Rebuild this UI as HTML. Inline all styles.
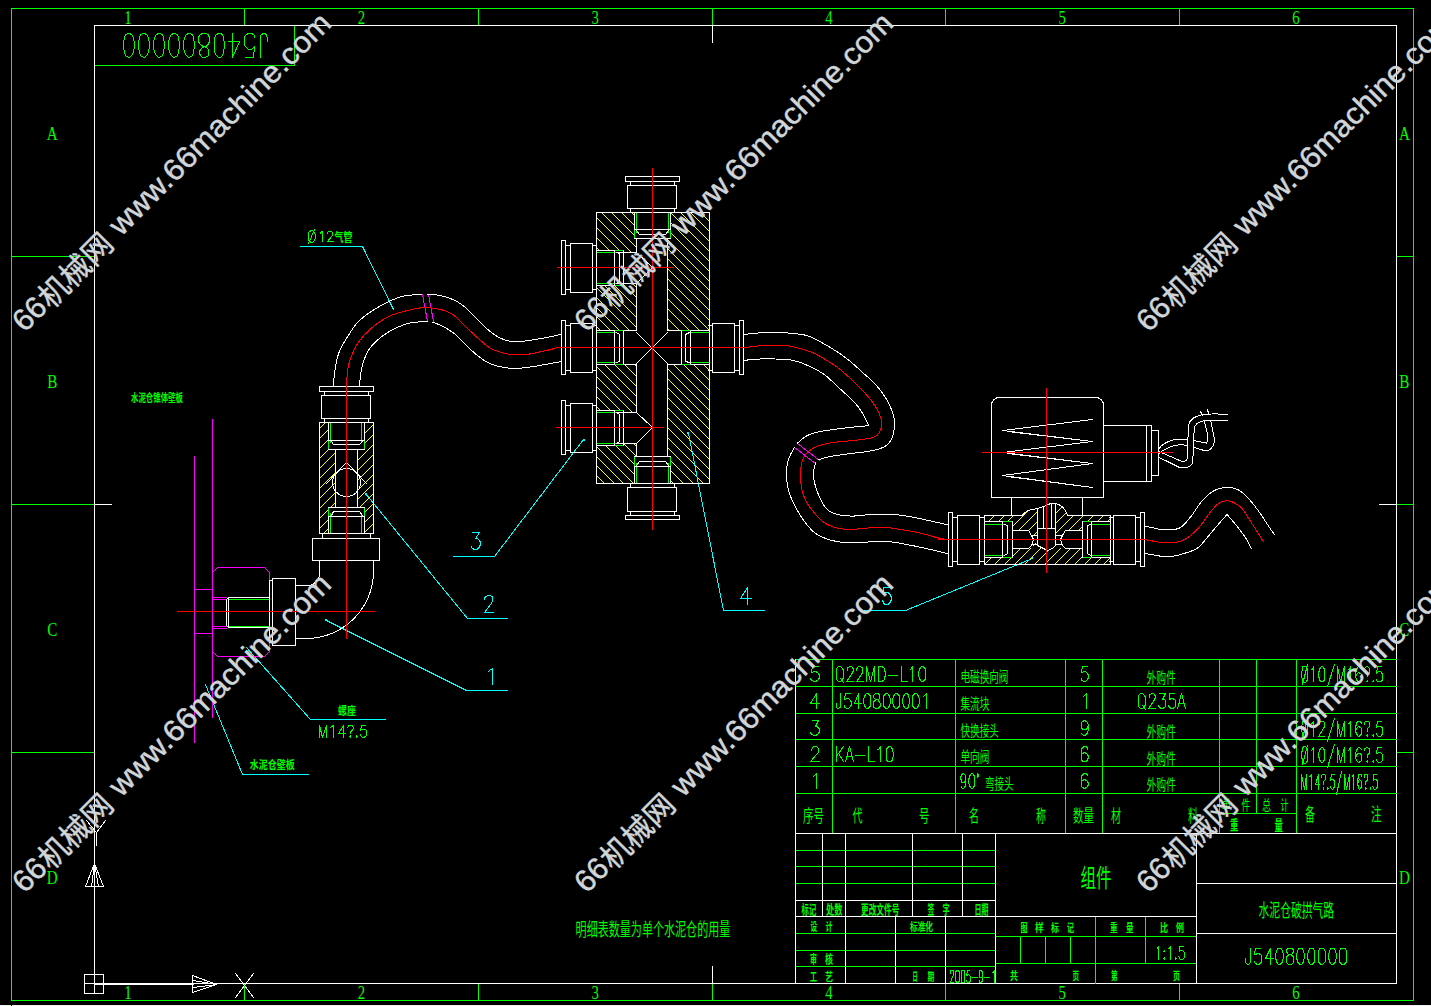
<!DOCTYPE html>
<html><head><meta charset="utf-8"><title>J540800000</title>
<style>html,body{margin:0;padding:0;background:#000;overflow:hidden}svg{display:block}
.ln{fill:none;stroke-width:1;stroke-linecap:square;shape-rendering:crispEdges}
.zone text{font-family:"Liberation Serif",serif;font-size:18px;fill:#0f0;text-anchor:middle}
.wm{font-family:"Liberation Sans","Noto Sans CJK SC",sans-serif}
.cj{font-family:"Liberation Sans","Noto Sans CJK SC",sans-serif;fill:#0f0}
.cb{font-family:"Liberation Sans","Noto Sans CJK SC",sans-serif;fill:#0f0;font-weight:bold}
</style></head><body>
<svg width="1431" height="1006" viewBox="0 0 1431 1006">
<rect width="1431" height="1006" fill="#000"/>
<path class="ln" stroke="#0f0" d="M11.5 8.5H1413.5V1000.5H11.5ZM244.5 8.5L244.5 25.5M244.5 983.5L244.5 1000.5M478.5 8.5L478.5 25.5M478.5 983.5L478.5 1000.5M712.5 8.5L712.5 25.5M712.5 983.5L712.5 1000.5M945.5 8.5L945.5 25.5M945.5 983.5L945.5 1000.5M1179.5 8.5L1179.5 25.5M1179.5 983.5L1179.5 1000.5M11.5 256.5L94.5 256.5M1396.5 256.5L1413.5 256.5M11.5 504.5L94.5 504.5M1396.5 504.5L1413.5 504.5M11.5 752.5L94.5 752.5M1396.5 752.5L1413.5 752.5M94.5 65.5L294.5 65.5M294.5 25.5L294.5 65.5"/>
<path class="ln" stroke="#f0f0f0" d="M0.5 1005.5L10.5 1005.5M12.5 1005.5L1431.5 1005.5"/>
<path class="ln" stroke="#fff" d="M94.5 25.5H1396.5V983.5H94.5ZM712.5 25.5L712.5 42.5M712.5 966.5L712.5 983.5M94.5 504.5L111.5 504.5M1379.5 504.5L1396.5 504.5M84.5 974.5H103.5V993.5H84.5ZM94.5 983.5L94.5 993.5M84.5 983.5L94.5 983.5M94.5 984.5L193.5 984.5M192.5 975.5L192.5 992.5M193.5 980.5L216.5 984.5M193.5 987.5L216.5 984.5M85.5 886.5L103.5 886.5M91.5 886.5L94.5 863.5M98.5 886.5L94.5 863.5M96.5 832.5L96.5 845.5"/>
<path class="ln" stroke="#fff" stroke-width="0.95" d="M192.5 992.5L216.5 984.5M216.5 984.5L192.5 975.5M103.5 886.5L94.5 863.5M94.5 863.5L85.5 886.5"/>
<path class="ln" stroke="#fff" stroke-width="0.8" d="M235.5 973.5L253.5 997.5M253.5 973.5L235.5 997.5M105.5 820.5L96.5 832.5"/>
<path class="ln" stroke="#fff" stroke-width="0.75" d="M86.5 820.5L96.5 832.5"/>
<path class="ln" stroke="#0f0" d="M795.5 659.5L1396.5 659.5M795.5 686.5L1396.5 686.5M795.5 713.5L1396.5 713.5M795.5 739.5L1396.5 739.5M795.5 766.5L1396.5 766.5M795.5 793.5L1396.5 793.5M832.5 659.5L832.5 833.5M955.5 659.5L955.5 833.5M1065.5 659.5L1065.5 833.5M1102.5 659.5L1102.5 833.5M1219.5 659.5L1219.5 833.5M1296.5 659.5L1296.5 833.5M1256.5 659.5L1256.5 813.5M1219.5 813.5L1296.5 813.5M795.5 850.5L995.5 850.5M795.5 866.5L995.5 866.5M795.5 883.5L995.5 883.5M795.5 933.5L995.5 933.5M795.5 950.5L995.5 950.5M795.5 966.5L995.5 966.5M995.5 936.5L1196.5 936.5M995.5 963.5L1196.5 963.5M1095.5 916.5L1095.5 983.5M1145.5 916.5L1145.5 963.5M1020.5 936.5L1020.5 963.5M1045.5 936.5L1045.5 963.5M1070.5 936.5L1070.5 963.5"/>
<path class="ln" stroke="#fff" d="M795.5 659.5L795.5 983.5M795.5 833.5L1396.5 833.5M822.5 833.5L822.5 916.5M845.5 833.5L845.5 916.5M912.5 833.5L912.5 916.5M962.5 833.5L962.5 916.5M995.5 833.5L995.5 983.5M795.5 900.5L995.5 900.5M795.5 916.5L1196.5 916.5M845.5 916.5L845.5 983.5M895.5 916.5L895.5 983.5M945.5 916.5L945.5 983.5M1196.5 833.5L1196.5 983.5M1196.5 883.5L1396.5 883.5M1196.5 933.5L1396.5 933.5"/>
<path class="ln" stroke="#ff0" stroke-width="0.7" d="M319.5 428.5L325.5 422.5M319.5 438.5L328.5 429.5M319.5 448.5L328.5 439.5M319.5 458.5L328.5 449.5M319.5 468.5L335.5 452.5M364.5 423.5L365.5 422.5M319.5 478.5L335.5 462.5M364.5 433.5L373.5 424.5M319.5 488.5L335.5 472.5M357.5 450.5L358.5 449.5M364.5 443.5L373.5 434.5M319.5 498.5L335.5 482.5M357.5 460.5L373.5 444.5M319.5 508.5L335.5 492.5M357.5 470.5L373.5 454.5M319.5 518.5L328.5 509.5M331.5 506.5L335.5 502.5M357.5 480.5L373.5 464.5M319.5 528.5L328.5 519.5M357.5 490.5L373.5 474.5M323.5 533.5L328.5 528.5M357.5 499.5L373.5 483.5M360.5 506.5L373.5 493.5M364.5 512.5L373.5 503.5M364.5 522.5L373.5 513.5M364.5 532.5L373.5 523.5M596.5 475.5L604.5 483.5M596.5 465.5L614.5 483.5M596.5 456.5L623.5 483.5M596.5 446.5L633.5 483.5M605.5 445.5L634.5 474.5M615.5 445.5L634.5 464.5M623.5 443.5L636.5 456.5M596.5 406.5L600.5 410.5M633.5 443.5L636.5 446.5M670.5 480.5L673.5 483.5M596.5 396.5L610.5 410.5M670.5 470.5L683.5 483.5M596.5 386.5L620.5 410.5M670.5 460.5L693.5 483.5M596.5 376.5L632.5 412.5M667.5 447.5L703.5 483.5M596.5 366.5L636.5 406.5M667.5 437.5L709.5 479.5M604.5 364.5L636.5 396.5M667.5 427.5L709.5 469.5M614.5 364.5L636.5 386.5M667.5 417.5L709.5 459.5M624.5 364.5L636.5 376.5M667.5 407.5L709.5 449.5M596.5 326.5L600.5 330.5M634.5 364.5L636.5 366.5M667.5 397.5L709.5 439.5M596.5 316.5L610.5 330.5M667.5 387.5L709.5 429.5M596.5 307.5L619.5 330.5M667.5 378.5L709.5 420.5M596.5 297.5L629.5 330.5M667.5 368.5L709.5 410.5M596.5 287.5L636.5 327.5M673.5 364.5L709.5 400.5M604.5 285.5L636.5 317.5M683.5 364.5L709.5 390.5M614.5 285.5L636.5 307.5M693.5 364.5L709.5 380.5M623.5 284.5L636.5 297.5M667.5 328.5L669.5 330.5M703.5 364.5L709.5 370.5M596.5 247.5L599.5 250.5M632.5 283.5L636.5 287.5M667.5 318.5L679.5 330.5M596.5 237.5L609.5 250.5M667.5 308.5L689.5 330.5M596.5 227.5L619.5 250.5M667.5 298.5L699.5 330.5M596.5 217.5L631.5 252.5M667.5 288.5L709.5 330.5M601.5 212.5L636.5 247.5M667.5 278.5L709.5 320.5M611.5 212.5L634.5 235.5M667.5 268.5L709.5 310.5M621.5 212.5L634.5 225.5M667.5 258.5L709.5 300.5M631.5 212.5L634.5 215.5M667.5 248.5L709.5 290.5M667.5 239.5L709.5 281.5M670.5 232.5L709.5 271.5M670.5 222.5L709.5 261.5M670.5 212.5L709.5 251.5M680.5 212.5L709.5 241.5M690.5 212.5L709.5 231.5M700.5 212.5L709.5 221.5M988.5 521.5L994.5 515.5M998.5 521.5L1004.5 515.5M1007.5 521.5L1013.5 515.5M1012.5 526.5L1028.5 510.5M984.5 564.5L991.5 557.5M1018.5 530.5L1037.5 511.5M994.5 564.5L1001.5 557.5M1028.5 530.5L1037.5 521.5M1004.5 564.5L1011.5 557.5M1012.5 556.5L1020.5 548.5M1033.5 535.5L1037.5 531.5M1055.5 513.5L1062.5 506.5M1014.5 564.5L1030.5 548.5M1033.5 545.5L1035.5 543.5M1055.5 523.5L1066.5 512.5M1024.5 564.5L1041.5 547.5M1055.5 533.5L1073.5 515.5M1034.5 564.5L1049.5 549.5M1068.5 530.5L1083.5 515.5M1044.5 564.5L1060.5 548.5M1078.5 530.5L1082.5 526.5M1087.5 521.5L1093.5 515.5M1054.5 564.5L1070.5 548.5M1097.5 521.5L1103.5 515.5M1064.5 564.5L1080.5 548.5M1107.5 521.5L1110.5 518.5M1074.5 564.5L1082.5 556.5M1084.5 564.5L1091.5 557.5M1094.5 564.5L1101.5 557.5M1103.5 564.5L1110.5 557.5"/>
<path class="ln" stroke="#0f0" d="M328.5 440.5L328.5 449.5M330.5 422.5L330.5 442.5M364.5 440.5L364.5 449.5M361.5 422.5L361.5 442.5M328.5 516.5L328.5 507.5M330.5 533.5L330.5 513.5M364.5 516.5L364.5 507.5M361.5 533.5L361.5 513.5M229.5 599.5L269.5 599.5M229.5 626.5L269.5 626.5M634.5 229.5L634.5 238.5M636.5 212.5L636.5 232.5M670.5 229.5L670.5 238.5M668.5 212.5L668.5 232.5M634.5 466.5L634.5 456.5M636.5 483.5L636.5 463.5M670.5 466.5L670.5 456.5M668.5 483.5L668.5 463.5M614.5 250.5L623.5 250.5M596.5 252.5L615.5 252.5M614.5 285.5L623.5 285.5M596.5 283.5L615.5 283.5M614.5 410.5L623.5 410.5M596.5 412.5L615.5 412.5M614.5 445.5L623.5 445.5M596.5 443.5L615.5 443.5M614.5 330.5L623.5 330.5M596.5 332.5L615.5 332.5M614.5 364.5L623.5 364.5M596.5 362.5L615.5 362.5M690.5 330.5L681.5 330.5M709.5 332.5L689.5 332.5M690.5 364.5L681.5 364.5M709.5 362.5L689.5 362.5M1002.5 521.5L1012.5 521.5M984.5 524.5L1003.5 524.5M1002.5 557.5L1012.5 557.5M984.5 555.5L1003.5 555.5M1091.5 521.5L1082.5 521.5M1110.5 524.5L1090.5 524.5M1091.5 557.5L1082.5 557.5M1110.5 555.5L1090.5 555.5"/>
<path class="ln" stroke="#0ff" d="M466.5 690.5L507.5 690.5M467.5 618.5L507.5 618.5M453.5 556.5L494.5 556.5M688.5 433.5L723.5 610.5M723.5 610.5L764.5 610.5M864.5 610.5L905.5 610.5M300.5 246.5L362.5 246.5M310.5 719.5L385.5 719.5M242.5 774.5L308.5 774.5"/>
<path class="ln" stroke="#0ff" stroke-width="0.95" d="M1032.5 558.5L905.5 610.5"/>
<path class="ln" stroke="#0ff" stroke-width="0.9" d="M326.5 620.5L466.5 690.5M362.5 246.5L393.5 309.5M205.5 684.5L242.5 774.5"/>
<path class="ln" stroke="#0ff" stroke-width="0.8" d="M583.5 439.5L494.5 556.5"/>
<path class="ln" stroke="#0ff" stroke-width="0.75" d="M365.5 493.5L467.5 618.5M246.5 647.5L310.5 719.5"/>
<path class="ln" stroke="#f0f" d="M212.5 419.5L212.5 717.5M194.5 456.5L194.5 742.5M194.5 589.5L212.5 589.5M194.5 633.5L212.5 633.5M217.5 567.5L264.5 567.5M269.5 572.5L269.5 651.5M264.5 656.5L217.5 656.5M212.5 597.5L226.5 597.5M212.5 599.5L226.5 599.5M212.5 626.5L226.5 626.5M212.5 628.5L226.5 628.5M422.5 294.5L427.5 321.5M428.5 294.5L433.5 321.5"/>
<path class="ln" stroke="#f0f" stroke-width="0.8" d="M797.5 443.5L819.5 460.5M794.5 447.5L815.5 463.5"/>
<path class="ln" stroke="#f0f" stroke-width="0.7" d="M212.5 572.5L217.5 567.5M264.5 567.5L269.5 572.5M269.5 651.5L264.5 656.5M217.5 656.5L212.5 651.5"/>
<path class="ln" stroke="#fff" d="M319.5 386.5H373.5V391.5H319.5ZM324.5 391.5L324.5 395.5M368.5 391.5L368.5 395.5M321.5 395.5H370.5V418.5H321.5ZM324.5 418.5L324.5 422.5M368.5 418.5L368.5 422.5M319.5 422.5H373.5V533.5H319.5ZM328.5 422.5L328.5 440.5M364.5 422.5L364.5 440.5M328.5 440.5L364.5 440.5M333.5 444.5L359.5 444.5M328.5 449.5L364.5 449.5M328.5 533.5L328.5 516.5M364.5 533.5L364.5 516.5M328.5 516.5L364.5 516.5M333.5 511.5L359.5 511.5M328.5 507.5L364.5 507.5M335.5 449.5L335.5 507.5M357.5 449.5L357.5 507.5M360.5 482.5L360.2 485.5M350.2 496L347.3 496.5M347.3 496.5L344.2 496.3M333.2 487L332.6 484M332.6 484L332.6 481M332.6 481L333.2 478M344.2 468.7L347.3 468.5M347.3 468.5L350.2 469M360.2 479.5L360.5 482.5M322.5 533.5L322.5 538.5M370.5 533.5L370.5 538.5M312.5 538.5H379.5V560.5H312.5ZM373.5 561L373.5 571M373.5 571L373.4 574M373.4 574L373.2 577.1M373.2 577.1L372.9 580.1M372.9 580.1L372.4 583.1M372.4 583.1L371.8 586M321 636.8L318.1 637.4M318.1 637.4L315.1 637.9M315.1 637.9L312.1 638.2M312.1 638.2L309 638.4M309 638.4L306 638.5M306 638.5L296 638.5M319.5 561L319.5 573.5M319.5 573.5L319.1 576.6M310.6 585.1L307.5 585.5M307.5 585.5L296 585.5M272.5 578.5H295.5V645.5H272.5ZM272.5 580.5L269.5 580.5M269.5 580.5L269.5 642.5M269.5 642.5L272.5 642.5M269.5 597.5L228.5 597.5M226.5 599.5L226.5 625.5M228.5 627.5L269.5 627.5M228.5 597.5L228.5 627.5M625.5 176.5H679.5V181.5H625.5ZM630.5 181.5L630.5 185.5M674.5 181.5L674.5 185.5M627.5 185.5H676.5V208.5H627.5ZM630.5 208.5L630.5 212.5M674.5 208.5L674.5 212.5M625.5 515.5H679.5V519.5H625.5ZM630.5 515.5L630.5 511.5M674.5 515.5L674.5 511.5M627.5 487.5H676.5V511.5H627.5ZM630.5 487.5L630.5 483.5M674.5 487.5L674.5 483.5M596.5 212.5H709.5V483.5H596.5ZM634.5 212.5L634.5 229.5M670.5 212.5L670.5 229.5M634.5 229.5L670.5 229.5M639.5 234.5L665.5 234.5M634.5 238.5L670.5 238.5M634.5 483.5L634.5 466.5M670.5 483.5L670.5 466.5M634.5 466.5L670.5 466.5M639.5 461.5L665.5 461.5M634.5 456.5L670.5 456.5M636.5 238.5L636.5 252.5M636.5 283.5L636.5 330.5M636.5 364.5L636.5 412.5M636.5 443.5L636.5 456.5M667.5 238.5L667.5 330.5M667.5 364.5L667.5 456.5M561.5 240.5H565.5V294.5H561.5ZM565.5 245.5L570.5 245.5M565.5 289.5L570.5 289.5M570.5 243.5H592.5V292.5H570.5ZM592.5 245.5L596.5 245.5M592.5 289.5L596.5 289.5M596.5 250.5L614.5 250.5M616.5 252.5L636.5 252.5M596.5 285.5L614.5 285.5M616.5 283.5L636.5 283.5M614.5 250.5L614.5 285.5M619.5 253.5L619.5 281.5M623.5 250.5L623.5 285.5M561.5 400.5H565.5V454.5H561.5ZM565.5 405.5L570.5 405.5M565.5 450.5L570.5 450.5M570.5 403.5H592.5V452.5H570.5ZM592.5 405.5L596.5 405.5M592.5 450.5L596.5 450.5M596.5 410.5L614.5 410.5M616.5 412.5L636.5 412.5M596.5 445.5L614.5 445.5M616.5 443.5L636.5 443.5M614.5 410.5L614.5 445.5M619.5 414.5L619.5 441.5M623.5 410.5L623.5 445.5M561.5 320.5H565.5V374.5H561.5ZM565.5 325.5L570.5 325.5M565.5 370.5L570.5 370.5M570.5 323.5H592.5V372.5H570.5ZM592.5 325.5L596.5 325.5M592.5 370.5L596.5 370.5M739.5 320.5H743.5V374.5H739.5ZM739.5 325.5L734.5 325.5M739.5 370.5L734.5 370.5M712.5 323.5H734.5V372.5H712.5ZM712.5 325.5L708.5 325.5M712.5 370.5L708.5 370.5M596.5 330.5L614.5 330.5M596.5 364.5L614.5 364.5M614.5 330.5L614.5 364.5M619.5 334.5L619.5 361.5M623.5 330.5L623.5 364.5M709.5 330.5L690.5 330.5M709.5 364.5L690.5 364.5M690.5 330.5L690.5 364.5M685.5 334.5L685.5 361.5M681.5 330.5L681.5 364.5M623.5 330.5L636.5 330.5M623.5 364.5L636.5 364.5M667.5 330.5L681.5 330.5M667.5 364.5L681.5 364.5M333 386L333.3 383.9M333.3 383.9L333.6 381.1M333.6 381.1L334 377.7M334 377.7L334.5 374M334.5 374L335 370.3M335 370.3L335.5 366.9M335.5 366.9L336 364M336 364L336.8 359.9M404 296L407.1 295.5M407.1 295.5L410.5 295.1M410.5 295.1L414 294.8M414 294.8L417.3 294.7M417.3 294.7L420 294.5M420 294.5L422 294.4M428 294.4L430.1 294.5M430.1 294.5L433.1 294.7M433.1 294.7L436.6 295M436.6 295L440 295.6M507 340.5L509.9 341.1M509.9 341.1L512.9 341.4M512.9 341.4L516 341.6M516 341.6L519.3 341.6M519.3 341.6L522.8 341.3M522.8 341.3L526.3 340.9M526.3 340.9L530 340.4M530 340.4L533.1 339.9M533.1 339.9L536.3 339.4M536.3 339.4L539.6 338.8M539.6 338.8L542.8 338.2M542.8 338.2L546 337.6M546 337.6L549.3 336.9M549.3 336.9L552.8 336.2M552.8 336.2L556.1 335.5M556.1 335.5L559 334.8M559 334.8L561 334.4M359.4 386L359.7 383.4M359.7 383.4L360 379.8M360 379.8L360.5 375.7M360.5 375.7L361 372M361 372L361.6 368.9M361.6 368.9L362.2 365.9M410 323L413.7 322.4M413.7 322.4L417.7 322M417.7 322L421.6 321.8M421.6 321.8L425 321.7M425 321.7L427.4 321.6M498.3 366.3L501.8 367M501.8 367L505.3 367.6M505.3 367.6L508.7 368.1M508.7 368.1L512 368.4M512 368.4L515.1 368.5M515.1 368.5L518.1 368.4M518.1 368.4L521.1 368.1M521.1 368.1L524.1 367.8M524.1 367.8L527 367.4M527 367.4L530 367M530 367L533.1 366.6M533.1 366.6L536.2 366.1M536.2 366.1L539.3 365.6M539.3 365.6L542.4 365M542.4 365L545.3 364.5M545.3 364.5L548 364M548 364L551.9 363.3M551.9 363.3L555.6 362.6M555.6 362.6L558.8 362M558.8 362L561 361.6M743.6 334.4L745.5 334.2M745.5 334.2L748.1 334M748.1 334L751.2 333.7M751.2 333.7L754.5 333.4M754.5 333.4L758.1 333M758.1 333L761.6 332.8M761.6 332.8L765 332.5M765 332.5L768 332.4M768 332.4L771.6 332.3M771.6 332.3L775 332.3M775 332.3L778.3 332.4M778.3 332.4L781.5 332.5M781.5 332.5L784.7 332.7M784.7 332.7L788 333M788 333L791.4 333.3M791.4 333.3L794.7 333.6M794.7 333.6L798.1 334M798.1 334L801.5 334.5M801.5 334.5L804.8 335.1M894 418L894.7 421.7M894.7 421.7L894.8 424.7M894.8 424.7L894.4 428M894.4 428L893.9 431M874.1 450.2L870 451M870 451L867 451.5M867 451.5L863.8 452M863.8 452L860.4 452.4M860.4 452.4L856.9 452.8M856.9 452.8L853.4 453.2M853.4 453.2L850 453.6M850 453.6L846.6 454.1M846.6 454.1L843 454.6M843 454.6L839.4 455.1M839.4 455.1L836 455.6M836 455.6L832.8 456.1M832.8 456.1L830 456.6M813.9 469.7L813.4 474M813.4 474L813.6 477.3M813.6 477.3L814.2 480.8M814.2 480.8L815 484.4M840 515L843.2 515.5M843.2 515.5L846.6 515.9M846.6 515.9L850.1 516M850.1 516L854 516M854 516L856.7 515.9M856.7 515.9L859.6 515.6M859.6 515.6L862.6 515.3M862.6 515.3L865.7 514.9M865.7 514.9L868.8 514.6M868.8 514.6L872 514.4M872 514.4L875.3 514.3M875.3 514.3L878.7 514.2M878.7 514.2L882.1 514.2M882.1 514.2L885.6 514.2M885.6 514.2L888.9 514.3M888.9 514.3L892 514.4M892 514.4L895.4 514.6M895.4 514.6L898.5 515M898.5 515L901.5 515.4M901.5 515.4L904.6 515.8M904.6 515.8L908 516.4M908 516.4L911.1 516.9M911.1 516.9L914.4 517.6M914.4 517.6L917.8 518.2M917.8 518.2L921.2 518.9M921.2 518.9L924.6 519.7M924.6 519.7L928 520.4M928 520.4L931.6 521.2M931.6 521.2L935.4 522.1M743.6 360.4L745.7 360.2M745.7 360.2L748.6 359.9M748.6 359.9L752.1 359.5M752.1 359.5L756 359.2M756 359.2L760 359M760 359L762.7 358.9M762.7 358.9L765.7 358.9M765.7 358.9L768.8 358.9M768.8 358.9L772 358.9M772 358.9L775.3 359M775.3 359L778.4 359.1M778.4 359.1L781.3 359.2M781.3 359.2L784 359.4M784 359.4L787.6 359.7M787.6 359.7L790.7 360M790.7 360L793.6 360.5M868.6 425.6L866.5 425.8M866.5 425.8L863.8 426.1M863.8 426.1L860.5 426.4M860.5 426.4L856.9 426.8M856.9 426.8L853.1 427.1M853.1 427.1L849.2 427.5M849.2 427.5L845.5 428M845.5 428L842 428.4M842 428.4L838.6 428.8M838.6 428.8L835.1 429.3M835.1 429.3L831.5 429.8M831.5 429.8L828 430.3M828 430.3L824.6 430.8M824.6 430.8L821.4 431.3M821.4 431.3L818.5 431.9M818.5 431.9L816 432.4M787.2 464.5L786.7 468.1M786.7 468.1L786.4 472M786.4 472L786.4 474.8M786.4 474.8L786.6 477.7M786.6 477.7L786.8 480.8M786.8 480.8L787.2 483.9M787.2 483.9L787.8 487M833.5 540.8L836.7 541.5M836.7 541.5L840 542M840 542L842.8 542.3M842.8 542.3L845.8 542.4M845.8 542.4L849 542.5M849 542.5L852.3 542.4M852.3 542.4L855.7 542.4M855.7 542.4L859 542.3M859 542.3L862.2 542.1M862.2 542.1L865.2 542.1M865.2 542.1L868 542M868 542L871.8 541.9M871.8 541.9L875.4 541.8M875.4 541.8L878.8 541.7M878.8 541.7L881.9 541.5M881.9 541.5L885 541.5M885 541.5L888 541.6M888 541.6L891.4 541.9M891.4 541.9L894.5 542.3M894.5 542.3L897.5 542.8M897.5 542.8L900.6 543.4M900.6 543.4L904 544M904 544L907.1 544.6M907.1 544.6L910.2 545.2M910.2 545.2L913.5 545.8M913.5 545.8L916.9 546.5M916.9 546.5L920.4 547.2M920.4 547.2L924 548M924 548L927 548.7M1154.4 528.2L1158.3 529M1158.3 529L1162 529.4M1162 529.4L1165.5 529.6M1165.5 529.6L1169 529.7M1169 529.7L1172.6 529.6M1172.6 529.6L1175.9 529.2M1219.6 488.6L1223 487.9M1223 487.9L1226.3 487.5M1226.3 487.5L1229.4 487.5M1229.4 487.5L1232.4 487.8M1145 553.3L1147.4 553.8M1147.4 553.8L1150.9 554.5M1150.9 554.5L1154.9 555.2M1154.9 555.2L1158.8 555.9M1158.8 555.9L1162 556.4M1162 556.4L1165.8 556.7M1165.8 556.7L1168.8 556.7M1168.8 556.7L1172 556.4M1172 556.4L1174.8 555.9M1174.8 555.9L1177.8 555.3M991.5 497.5L991.5 405.5M991.5 405.5L992.1 402.4M996.4 398.1L999.5 397.5M999.5 397.5L1095.5 397.5M1095.5 397.5L1098.6 398.1M1102.9 402.4L1103.5 405.5M1103.5 405.5L1103.5 497.5M1103.5 497.5L991.5 497.5M1092.5 419.5L1002.5 430.5M1002.5 430.5L1092.5 441.5M1092.5 441.5L1002.5 452.5M1002.5 452.5L1092.5 463.5M1092.5 463.5L1002.5 475.5M1002.5 475.5L1092.5 487.5M1092.5 441.5L1007.5 431.5M1092.5 463.5L1007.5 453.5M1092.5 487.5L1007.5 476.5M1103.5 425.5H1151.5V481.5H1103.5ZM1146.5 425.5L1146.5 481.5M1152.5 430.5L1158.5 430.5M1158.5 430.5L1158.5 475.5M1158.5 475.5L1152.5 475.5M1173.7 439.8L1176.7 439.4M1176.7 439.4L1180 439.1M1180 439.1L1183.6 439.2M1183.6 439.2L1187.5 439.5M1175.5 445.4L1178.4 445M1178.4 445L1181.4 444.9M1181.4 444.9L1184.4 445M1184.4 445L1187.5 445.4M1180.7 461L1184.3 461.5M1187.4 457.6L1188.3 427M1188.3 427L1188.9 424.2M1202 414.8L1205.1 414.4M1205.1 414.4L1208.3 414.1M1208.3 414.1L1211.6 414M1211.6 414L1215 413.9M1215 413.9L1218.4 414M1218.4 414L1221.7 414.1M1221.7 414.1L1224.9 414.3M1224.9 414.3L1228 414.5M1179 467.2L1182.4 467.8M1182.4 467.8L1185.5 467.7M1192.8 461L1194.2 429M1204.3 420.7L1228 420.4M1194.2 440.7L1206.9 443.2M1206.9 443.2L1207.7 434.8M1201.2 449.7L1203.7 450.3M1203.7 450.3L1206 450.5M1206 450.5L1208.8 450M1214.1 442.9L1214.5 439M1214.5 439L1210.7 420.7M1011.5 497.5L1011.5 515.5M1082.5 497.5L1082.5 515.5M984.5 515.5L1022.5 515.5M1068.5 515.5L1110.5 515.5M1030 510L1033.6 509.3M1033.6 509.3L1037 508.5M1051.5 503.3L1053 503.2M1053 503.2L1055.4 503.5M984.5 515.5L984.5 564.5M1110.5 515.5L1110.5 564.5M984.5 564.5L1110.5 564.5M948.5 512.5H952.5V566.5H948.5ZM952.5 517.5L957.5 517.5M952.5 561.5L957.5 561.5M957.5 515.5H979.5V564.5H957.5ZM979.5 517.5L983.5 517.5M979.5 561.5L983.5 561.5M1140.5 512.5H1144.5V566.5H1140.5ZM1140.5 517.5L1135.5 517.5M1140.5 561.5L1135.5 561.5M1113.5 515.5H1135.5V564.5H1113.5ZM1113.5 517.5L1109.5 517.5M1113.5 561.5L1109.5 561.5M984.5 521.5L1002.5 521.5M984.5 557.5L1002.5 557.5M1002.5 521.5L1002.5 557.5M1007.5 525.5L1007.5 553.5M1012.5 521.5L1012.5 557.5M1110.5 521.5L1091.5 521.5M1110.5 557.5L1091.5 557.5M1091.5 521.5L1091.5 557.5M1087.5 525.5L1087.5 553.5M1082.5 521.5L1082.5 557.5M1012.5 530.5L1028.5 530.5M1012.5 548.5L1028.5 548.5M1082.5 530.5L1065.5 530.5M1082.5 548.5L1065.5 548.5M1032.5 535.5L1037.5 535.5M1032.5 544.5L1037.5 544.5M1055.5 535.5L1061.5 535.5M1055.5 544.5L1061.5 544.5M1037.5 509.5L1037.5 545.5M1055.5 503.5L1055.5 545.5M1043.5 506.5L1043.5 528.5M1051.5 503.5L1051.5 528.5M1037.5 528.5L1055.5 528.5"/>
<path class="ln" stroke="#fff" stroke-width="0.95" d="M360.2 485.5L359.2 488.4M353.1 494.9L350.2 496M344.2 496.3L341.3 495.5M341.3 469.5L344.2 468.7M350.2 469L353.1 470.1M359.2 476.6L360.2 479.5M371.8 586L371.1 589M371.1 589L370.2 591.9M370.2 591.9L369.2 594.7M369.2 594.7L368.1 597.5M332.5 633.1L329.7 634.2M329.7 634.2L326.9 635.2M326.9 635.2L324 636.1M324 636.1L321 636.8M616.5 252.5L619.5 253.5M616.5 362.5L619.5 361.5M689.5 362.5L685.5 361.5M336.8 359.9L337.7 356.5M337.7 356.5L338.7 353.3M338.7 353.3L340 350M394.3 299.2L397.5 297.9M397.5 297.9L400.7 296.9M400.7 296.9L404 296M440 295.6L443.4 296.4M443.4 296.4L447 297.4M447 297.4L450.6 298.6M501 338.4L504 339.6M504 339.6L507 340.5M362.2 365.9L363 363M363 363L364 360M364 360L365.2 357M400.2 326.2L403.4 324.9M403.4 324.9L406.7 323.9M406.7 323.9L410 323M432.4 322L434.5 322.8M434.5 322.8L437.5 324M492 364.4L495 365.4M495 365.4L498.3 366.3M804.8 335.1L808 336M808 336L811.1 337.1M891.1 408.8L892.3 412.1M892.3 412.1L893.3 415.2M893.3 415.2L894 418M893.9 431L893.2 434.2M893.2 434.2L892.2 437.3M881.1 448.2L877.8 449.3M877.8 449.3L874.1 450.2M830 456.6L825.3 457.7M825.3 457.7L821.5 458.8M821.5 458.8L819 459.6M815.6 463L814.9 465.7M814.9 465.7L813.9 469.7M815 484.4L816 488M816 488L817 490.9M817 490.9L818.1 493.8M832.3 512.8L836 514.1M836 514.1L840 515M935.4 522.1L939.2 522.9M939.2 522.9L942.8 523.8M942.8 523.8L945.8 524.5M945.8 524.5L948 525M793.6 360.5L796.5 361.3M796.5 361.3L800 362.4M800 362.4L802.5 363.3M802.5 363.3L805.2 364.4M816 432.4L812.1 433.5M812.1 433.5L809.3 434.6M789 458L788 461.2M788 461.2L787.2 464.5M787.8 487L788.5 490M788.5 490L789.4 493M789.4 493L790.4 496M790.4 496L791.6 499M824.9 538.2L827.6 539.2M827.6 539.2L830.4 540.1M830.4 540.1L833.5 540.8M927 548.7L930.3 549.4M930.3 549.4L933.8 550.2M933.8 550.2L937.2 551.1M937.2 551.1L940.6 551.8M940.6 551.8L943.6 552.6M943.6 552.6L946.1 553.2M946.1 553.2L948 553.6M1145 526L1147.3 526.5M1147.3 526.5L1150.6 527.3M1150.6 527.3L1154.4 528.2M1175.9 529.2L1179 528.2M1216.1 489.8L1219.6 488.6M1232.4 487.8L1235.2 488.6M1235.2 488.6L1238 489.7M1177.8 555.3L1180.8 554.5M1180.8 554.5L1184 553.5M1184 553.5L1187.4 552.4M1187.4 552.4L1190.9 551.3M1168.2 441.6L1170.8 440.6M1170.8 440.6L1173.7 439.8M1169.9 447.1L1172.7 446.1M1172.7 446.1L1175.5 445.4M1186.6 460.3L1187.4 457.6M1195.9 416.7L1198.8 415.6M1198.8 415.6L1202 414.8M1185.5 467.7L1188.2 467M1192 463.7L1192.8 461M1194.2 429L1195 426.3M1201.3 421.4L1204.3 420.7M1207.7 434.8L1204.3 421.3M1194.2 447.4L1198.1 448.8M1198.1 448.8L1201.2 449.7M1212.9 446.1L1214.1 442.9M1207.5 409.5L1208.5 413.5M1027 511L1030 510M1037 508.5L1041.3 507.2M1041.3 507.2L1045 506M1050 503.8L1051.5 503.3M1055.4 503.5L1058 504.2M1004.5 524.5L1007.5 525.5M1090.5 524.5L1087.5 525.5M1033.5 539.5L1031.5 545.5M1060.5 539.5L1062.5 545.5M1047.5 550.5L1052.5 548.5"/>
<path class="ln" stroke="#fff" stroke-width="0.9" d="M331.5 515.5L333.5 511.5M341.3 495.5L338.6 494.1M334.5 489.7L333.2 487M333.2 478L334.5 475.3M338.6 470.9L341.3 469.5M368.1 597.5L366.8 600.3M366.8 600.3L365.4 603M338 630.4L335.3 631.8M335.3 631.8L332.5 633.1M319.1 576.6L317.9 579.5M313.5 583.9L310.6 585.1M689.5 332.5L685.5 334.5M340 350L341.3 347.2M341.3 347.2L342.8 344.4M379.9 306.2L382.6 304.7M382.6 304.7L385.3 303.3M385.3 303.3L388 302M388 302L391.2 300.5M391.2 300.5L394.3 299.2M450.6 298.6L454 300M454 300L457.1 301.6M498 336.9L501 338.4M365.2 357L366.6 353.9M366.6 353.9L368.1 350.9M391 330.6L394 329M394 329L397 327.5M397 327.5L400.2 326.2M437.5 324L440.8 325.4M440.8 325.4L444 327M485.9 361.5L488.8 363M488.8 363L492 364.4M811.1 337.1L814.1 338.4M814.1 338.4L817 339.9M817 339.9L819.9 341.5M888 402L889.7 405.4M889.7 405.4L891.1 408.8M892.2 437.3L891 440M884 447L881.1 448.2M818.1 493.8L819.4 496.8M819.4 496.8L820.7 499.5M820.7 499.5L822 502M805.2 364.4L808.1 365.7M808.1 365.7L811 367M811 367L813.9 368.4M813.9 368.4L816.8 369.9M863 414L864.8 417.2M864.8 417.2L866.4 420.6M866.4 420.6L867.7 423.5M867.7 423.5L868.6 425.6M809.3 434.6L807.1 435.7M790.8 453.9L789 458M791.6 499L793 502M793 502L794.4 505M794.4 505L796 508M820 536L822.4 537.1M822.4 537.1L824.9 538.2M1212.8 491.4L1216.1 489.8M1190.9 551.3L1194.4 549.8M1247.1 540.4L1248.9 543.8M1248.9 543.8L1250.5 546.7M1250.5 546.7L1251.6 548.8M1165.7 442.9L1168.2 441.6M1164.4 449.7L1167.1 448.3M1167.1 448.3L1169.9 447.1M1159.6 451.7L1180.7 461M1184.3 461.5L1186.6 460.3M1188.9 424.2L1189.9 421.8M1158.7 457.2L1179 467.2M1198.6 422.5L1201.3 421.4M1200.5 411.5L1202.5 415.5M1045 506L1047.8 504.8M1047.8 504.8L1050 503.8M1058 504.2L1060.6 505.6M1067.2 514L1068 515.5M1031.5 535.5L1033.5 539.5M1062.5 535.5L1060.5 539.5M1037.5 545.5L1043.5 548.5M1043.5 548.5L1047.5 550.5"/>
<path class="ln" stroke="#fff" stroke-width="0.85" d="M331.5 441.5L333.5 444.5M359.2 488.4L357.6 491M355.6 493.2L353.1 494.9M353.1 470.1L355.6 471.8M357.6 474L359.2 476.6M365.4 603L363.9 605.6M363.9 605.6L362.3 608.2M343.2 627.3L340.6 628.9M340.6 628.9L338 630.4M616.5 283.5L619.5 281.5M616.5 412.5L619.5 414.5M616.5 443.5L619.5 441.5M616.5 332.5L619.5 334.5M342.8 344.4L344.5 341.6M344.5 341.6L346.2 338.8M346.2 338.8L348 336M348 336L349.8 333.2M349.8 333.2L351.7 330.3M351.7 330.3L353.6 327.4M369 313L372 311M372 311L374.6 309.3M374.6 309.3L377.2 307.7M377.2 307.7L379.9 306.2M457.1 301.6L460 303.4M495 335.1L498 336.9M368.1 350.9L370 348M385.2 334.2L388.1 332.3M388.1 332.3L391 330.6M444 327L447 328.7M447 328.7L450.1 330.7M483.2 359.8L485.9 361.5M819.9 341.5L822.9 343.2M822.9 343.2L826 345M826 345L828.8 346.6M828.8 346.6L831.7 348.4M831.7 348.4L834.6 350.2M834.6 350.2L837.6 352.1M837.6 352.1L840.5 354.1M882.5 393.3L884.5 396.3M884.5 396.3L886.4 399.2M886.4 399.2L888 402M891 440L889.2 442.8M887 445.1L884 447M822 502L824.1 505.6M829 511L832.3 512.8M816.8 369.9L819.5 371.5M819.5 371.5L822 373M860 409.4L861.5 411.7M861.5 411.7L863 414M807.1 435.7L805 437M794.4 447.6L792.9 450.2M792.9 450.2L790.8 453.9M796 508L797.5 510.6M797.5 510.6L799.1 513.4M799.1 513.4L800.8 516.1M800.8 516.1L802.6 518.8M817.1 534.4L820 536M1179 528.2L1181.7 526.6M1192.9 513.9L1194.9 511M1194.9 511L1196.9 507.9M1196.9 507.9L1198.9 505M1210.3 493.1L1212.8 491.4M1238 489.7L1240.6 491.2M1260.2 513.4L1261.9 515.9M1261.9 515.9L1263.6 518.5M1263.6 518.5L1265.2 521M1265.2 521L1266.8 523.4M1266.8 523.4L1268.9 526.6M1268.9 526.6L1271.1 529.9M1271.1 529.9L1273.1 532.8M1273.1 532.8L1274.4 534.8M1194.4 549.8L1197.6 548M1245 537L1247.1 540.4M992.1 402.4L993.8 399.8M993.8 399.8L996.4 398.1M1098.6 398.1L1101.2 399.8M1101.2 399.8L1102.9 402.4M1163.4 444.4L1165.7 442.9M1161.7 451.4L1164.4 449.7M1193.5 418.1L1195.9 416.7M1188.2 467L1190.4 465.7M1208.8 450L1211.2 448.5M1064.7 509.7L1066 512M1066 512L1067.2 514M1004.5 555.5L1007.5 553.5M1090.5 555.5L1087.5 553.5M1028.5 530.5L1031.5 535.5M1065.5 530.5L1062.5 535.5"/>
<path class="ln" stroke="#fff" stroke-width="0.8" d="M362.5 515.5L359.5 511.5M336.3 492.1L334.5 489.7M334.5 475.3L336.3 472.9M362.3 608.2L360.6 610.7M360.6 610.7L358.8 613.1M348.1 623.8L345.7 625.6M345.7 625.6L343.2 627.3M317.9 579.5L316 582M316 582L313.5 583.9M636.5 230.5L639.5 234.5M668.5 230.5L665.5 234.5M636.5 465.5L639.5 461.5M668.5 465.5L665.5 461.5M353.6 327.4L355.7 324.6M363.2 317.3L366.1 315.1M366.1 315.1L369 313M460 303.4L462.9 305.5M462.9 305.5L466 308M489.6 331.1L492 333M492 333L495 335.1M370 348L372.1 345.3M380 338L382.5 336.1M382.5 336.1L385.2 334.2M450.1 330.7L453.1 332.8M453.1 332.8L456 335M475.4 354L478 356M478 356L480.6 357.9M480.6 357.9L483.2 359.8M840.5 354.1L843.3 356.1M843.3 356.1L846 358M846 358L848.5 360M878.2 387.6L880.4 390.4M880.4 390.4L882.5 393.3M824.1 505.6L826.3 508.6M822 373L824.6 374.8M824.6 374.8L827 376.7M856.3 404.6L858.3 407M858.3 407L860 409.4M805 437L802 439.1M802.6 518.8L804.4 521.4M804.4 521.4L806.2 523.8M806.2 523.8L808 526M814.6 532.7L817.1 534.4M1190.8 516.7L1192.9 513.9M1198.9 505L1201 502.3M1240.6 491.2L1243.1 493.2M1252.2 502.8L1254.4 505.5M1254.4 505.5L1256.4 508.2M1256.4 508.2L1258.4 510.8M1258.4 510.8L1260.2 513.4M1203.8 541.7L1205.7 539.4M1234.7 523.4L1236.7 525.8M1236.7 525.8L1238.8 528.6M1238.8 528.6L1241 531.5M1241 531.5L1243.1 534.3M1243.1 534.3L1245 537M1161.1 446.2L1163.4 444.4M1159 453.3L1161.7 451.4M1189.9 421.8L1191.5 419.8M1190.4 465.7L1192 463.7M1195 426.3L1196.5 424.1M1196.5 424.1L1198.6 422.5M1211.2 448.5L1212.9 446.1M1023.9 513.4L1027 511M1060.6 505.6L1063 507.5M1063 507.5L1064.7 509.7"/>
<path class="ln" stroke="#fff" stroke-width="0.75" d="M357.6 491L355.6 493.2M338.6 494.1L336.3 492.1M336.3 472.9L338.6 470.9M355.6 471.8L357.6 474M358.8 613.1L356.8 615.4M356.8 615.4L354.8 617.6M352.6 619.8L350.4 621.8M350.4 621.8L348.1 623.8M636.5 252.5L652.5 267.5M636.5 412.5L652.5 427.5M355.7 324.6L358 322M360.5 319.6L363.2 317.3M466 308L468.2 310M484.9 326.8L487.3 329.1M487.3 329.1L489.6 331.1M372.1 345.3L374.5 342.8M374.5 342.8L377.1 340.4M377.1 340.4L380 338M456 335L458.6 337.3M461 339.8L463.4 342.4M473 351.7L475.4 354M848.5 360L850.9 362M850.9 362L853.2 364M853.2 364L855.5 366M855.5 366L857.7 368M857.7 368L859.9 370M859.9 370L862 372M862 372L864.5 374.2M864.5 374.2L866.9 376.3M866.9 376.3L869.2 378.3M869.2 378.3L871.6 380.4M873.8 382.6L876 385M876 385L878.2 387.6M826.3 508.6L829 511M827 376.7L829.3 378.7M829.3 378.7L831.5 380.8M835.8 384.9L838 387M838 387L840.3 389.1M840.3 389.1L842.8 391.3M842.8 391.3L845.2 393.5M845.2 393.5L847.6 395.7M847.6 395.7L849.9 397.9M854 402L856.3 404.6M802 439.1L799.4 441.4M799.4 441.4L797.6 443M808 526L810.3 528.6M812.4 530.8L814.6 532.7M1181.7 526.6L1184.2 524.5M1184.2 524.5L1186.4 522M1186.4 522L1188.6 519.4M1188.6 519.4L1190.8 516.7M1201 502.3L1203.2 499.8M1203.2 499.8L1205.5 497.4M1207.9 495.1L1210.3 493.1M1243.1 493.2L1245.5 495.5M1248 498L1250.1 500.3M1250.1 500.3L1252.2 502.8M1197.6 548L1199.8 546.2M1201.9 544L1203.8 541.7M1205.7 539.4L1207.7 537M1207.7 537L1209.7 534.6M1209.7 534.6L1211.8 532.2M1211.8 532.2L1213.8 529.7M1213.8 529.7L1215.8 527.3M1215.8 527.3L1217.8 525M1217.8 525L1220.4 522M1220.4 522L1223 519M1223 519L1225.4 516.4M1225.4 516.4L1227 514.5M1227 514.5L1228.9 516.6M1228.9 516.6L1231.7 519.8M1231.7 519.8L1234.7 523.4M1191.5 419.8L1193.5 418.1M1022 515.5L1023.9 513.4"/>
<path class="ln" stroke="#fff" stroke-width="0.7" d="M362.5 441.5L359.5 444.5M346.5 462.5L326.5 483.5M346.5 462.5L366.5 483.5M354.8 617.6L352.6 619.8M228.5 597.5L226.5 599.5M226.5 625.5L228.5 627.5M636.5 283.5L652.5 267.5M636.5 443.5L652.5 427.5M636.5 332.5L667.5 363.5M636.5 363.5L667.5 332.5M358 322L360.5 319.6M468.2 310L470.6 312.3M470.6 312.3L473 314.8M473 314.8L475.4 317.3M475.4 317.3L477.8 319.8M477.8 319.8L480 322M480 322L482.5 324.5M482.5 324.5L484.9 326.8M458.6 337.3L461 339.8M463.4 342.4L466 345M466 345L468.2 347.2M468.2 347.2L470.6 349.5M470.6 349.5L473 351.7M871.6 380.4L873.8 382.6M889.2 442.8L887 445.1M831.5 380.8L833.6 382.8M833.6 382.8L835.8 384.9M849.9 397.9L852.1 400M852.1 400L854 402M810.3 528.6L812.4 530.8M1205.5 497.4L1207.9 495.1M1245.5 495.5L1248 498M1199.8 546.2L1201.9 544M1159 448.3L1161.1 446.2M1031.5 545.5L1028.5 548.5M1062.5 545.5L1065.5 548.5M1052.5 548.5L1055.5 545.5"/>
<g><rect x="325" y="619" width="2" height="2" fill="#0ff"/>
<rect x="365" y="493" width="2" height="2" fill="#0ff"/>
<rect x="583" y="439" width="2" height="2" fill="#0ff"/>
<rect x="687" y="432" width="2" height="2" fill="#0ff"/>
<rect x="1031" y="557" width="2" height="2" fill="#0ff"/></g>
<path class="ln" stroke="#f00" d="M346.5 380.5L346.5 638.5M177.5 611.5L374.5 611.5M557.5 267.5L673.5 267.5M556.5 427.5L663.5 427.5M557.5 347.5L743.5 347.5M652.5 168.5L652.5 529.5M346.4 386L346.5 384M346.5 384L346.7 381.2M346.7 381.2L346.9 377.9M346.9 377.9L347.2 374.4M347.2 374.4L347.6 371M347.6 371L348 368M348 368L348.8 364.2M411.3 309.6L414.5 308.9M414.5 308.9L417.7 308.3M417.7 308.3L420.8 307.8M420.8 307.8L424 307.6M424 307.6L427.3 307.6M427.3 307.6L430.6 307.9M430.6 307.9L433.9 308.3M433.9 308.3L437.1 308.8M437.1 308.8L440 309.4M504.6 353.4L508 354M508 354L510.9 354.4M510.9 354.4L513.9 354.6M513.9 354.6L516.9 354.7M516.9 354.7L519.9 354.7M519.9 354.7L523 354.6M523 354.6L526 354.4M526 354.4L529 354.1M529 354.1L532.1 353.5M532.1 353.5L535.2 352.9M535.2 352.9L538.3 352.3M538.3 352.3L541.2 351.6M541.2 351.6L544 351M544 351L548.1 350.1M743.6 347.6L745.8 347.4M745.8 347.4L748.8 347M748.8 347L752.4 346.6M752.4 346.6L756.3 346.2M756.3 346.2L760.3 345.8M760.3 345.8L764 345.6M764 345.6L767 345.4M767 345.4L770.1 345.3M770.1 345.3L773.2 345.1M773.2 345.1L776.3 345.1M776.3 345.1L779.5 345.1M779.5 345.1L782.7 345.3M782.7 345.3L786 345.6M786 345.6L789 346M789 346L792 346.6M792 346.6L795.2 347.3M880.9 418.5L881.6 422M881.6 422L881.6 425.3M881.6 425.3L881.1 428.3M871.6 437.8L868.7 438.4M868.7 438.4L865.5 439M865.5 439L861.9 439.5M861.9 439.5L858 440M858 440L855.3 440.3M855.3 440.3L852.4 440.6M852.4 440.6L849.2 440.9M849.2 440.9L846 441.2M846 441.2L842.8 441.4M842.8 441.4L839.6 441.7M839.6 441.7L836.7 442M836.7 442L834 442.4M834 442.4L830.2 443M830.2 443L826.7 443.6M826.7 443.6L823.6 444.3M801.2 465.2L800.8 468.8M800.8 468.8L800.6 472.4M800.6 472.4L800.5 476M800.5 476L800.6 479.6M800.6 479.6L800.9 483.2M800.9 483.2L801.4 486.7M801.4 486.7L802 490M837.8 528.3L840.7 528.8M840.7 528.8L843.7 529.1M843.7 529.1L846.8 529.3M846.8 529.3L850 529.4M850 529.4L852.8 529.3M852.8 529.3L855.9 529.1M855.9 529.1L858.9 528.9M858.9 528.9L862 528.5M862 528.5L865.1 528.2M865.1 528.2L868 528M868 528L871.3 527.8M871.3 527.8L874.5 527.6M874.5 527.6L877.7 527.4M877.7 527.4L880.8 527.3M880.8 527.3L884 527.4M884 527.4L887.1 527.6M887.1 527.6L890.2 527.9M890.2 527.9L893.3 528.4M893.3 528.4L896.5 528.9M896.5 528.9L900 529.4M900 529.4L903.1 529.9M903.1 529.9L906.4 530.4M906.4 530.4L909.8 531M909.8 531L913.2 531.6M913.2 531.6L916.6 532.3M916.6 532.3L920 533M940 538.4L945.2 539.2M945.2 539.2L948 539.4M1145 539.5L1147.3 540M1147.3 540L1150.6 540.6M1150.6 540.6L1154.4 541.4M1154.4 541.4L1158.3 542M1158.3 542L1162 542.4M1162 542.4L1165.5 542.6M1165.5 542.6L1169 542.7M1169 542.7L1172.6 542.6M1172.6 542.6L1175.9 542.3M1175.9 542.3L1179 541.7M1224.6 501L1227.8 500.7M982.5 452.5L1172.5 452.5M1046.5 388.5L1046.5 572.5M938.5 539.5L1145.5 539.5"/>
<path class="ln" stroke="#f00" stroke-width="0.95" d="M348.8 364.2L349.8 360.8M349.8 360.8L351 357.4M351 357.4L352.4 354M392.9 314.8L395.9 313.7M395.9 313.7L399 312.7M399 312.7L402.1 311.9M402.1 311.9L405.1 311.1M405.1 311.1L408 310.4M408 310.4L411.3 309.6M440 309.4L443.3 310.2M443.3 310.2L446.2 311.1M494.9 350.3L498 351.5M498 351.5L501.3 352.5M501.3 352.5L504.6 353.4M548.1 350.1L552.1 349.1M552.1 349.1L555.6 348.2M555.6 348.2L558 347.6M795.2 347.3L798.4 348.1M798.4 348.1L801.5 348.9M801.5 348.9L804.5 349.8M804.5 349.8L807.4 350.7M807.4 350.7L810 351.6M810 351.6L813.1 352.8M879.7 414.8L880.9 418.5M881.1 428.3L880 431M874 437L871.6 437.8M823.6 444.3L820.7 445.1M820.7 445.1L818 446M803.5 458.2L802 462M802 462L801.2 465.2M802 490L803.1 494M803.1 494L804.4 497.6M831.5 526.4L835 527.6M835 527.6L837.8 528.3M920 533L923.5 533.8M923.5 533.8L927.1 534.8M927.1 534.8L930.8 535.9M930.8 535.9L934.2 536.9M934.2 536.9L937.4 537.7M937.4 537.7L940 538.4M1179 541.7L1182.4 540.6M1221.3 501.9L1224.6 501M1227.8 500.7L1231.4 501.5"/>
<path class="ln" stroke="#f00" stroke-width="0.9" d="M352.4 354L353.6 351.2M353.6 351.2L354.9 348.4M354.9 348.4L356.3 345.6M384.4 318.9L387.2 317.4M387.2 317.4L390 316M390 316L392.9 314.8M446.2 311.1L449.1 312.3M492 349L494.9 350.3M813.1 352.8L815.9 354.1M815.9 354.1L818.5 355.5M876.4 408.1L878 411M878 411L879.7 414.8M818 446L814.1 447.7M804.4 497.6L806 501M828.2 524.9L831.5 526.4M1182.4 540.6L1185.3 539.1M1231.4 501.5L1233.8 502.6"/>
<path class="ln" stroke="#f00" stroke-width="0.85" d="M356.3 345.6L358 342.8M379.1 322.2L381.8 320.5M381.8 320.5L384.4 318.9M449.1 312.3L452 314M487.1 346L489.4 347.6M489.4 347.6L492 349M818.5 355.5L821 356.9M821 356.9L823.4 358.4M823.4 358.4L826 360M826 360L828.7 361.6M828.7 361.6L831.3 363.3M831.3 363.3L834 365.1M874.5 405.1L876.4 408.1M880 431L878.7 433.3M876.9 435.3L874 437M814.1 447.7L810.8 449.6M805.5 454.9L803.5 458.2M806 501L807.7 504.1M807.7 504.1L809.6 506.9M825 523.1L828.2 524.9M1185.3 539.1L1188.1 537.3M1205.3 519.1L1207.3 516.1M1217.8 504L1221.3 501.9M1233.8 502.6L1236.5 504.2M1236.5 504.2L1239.2 506M1243.9 510.8L1245.8 513.9M1245.8 513.9L1248 517.5M1248 517.5L1249.6 520M1249.6 520L1251.4 522.8M1251.4 522.8L1253.3 525.6M1253.3 525.6L1255.1 528.4M1255.1 528.4L1256.7 531M1256.7 531L1258.7 534.1M1258.7 534.1L1260.6 537.1M1260.6 537.1L1262.2 539.7M1262.2 539.7L1263.4 541.5"/>
<path class="ln" stroke="#f00" stroke-width="0.8" d="M358 342.8L360 340M360 340L361.9 337.6M374 326L376.5 324.1M376.5 324.1L379.1 322.2M452 314L454.3 315.7M484.9 344.2L487.1 346M834 365.1L836.7 366.9M836.7 366.9L839.3 368.9M839.3 368.9L842 371M870 399L872.4 402.1M872.4 402.1L874.5 405.1M809.6 506.9L812 510M812 510L814.1 512.7M822 521L825 523.1M1188.1 537.3L1190.8 535.3M1201 525L1203.2 522.1M1203.2 522.1L1205.3 519.1M1207.3 516.1L1209.4 513.3M1209.4 513.3L1211.5 510.7"/>
<path class="ln" stroke="#f00" stroke-width="0.75" d="M361.9 337.6L364.1 335.2M368.9 330.4L371.5 328.1M371.5 328.1L374 326M454.3 315.7L456.6 317.7M464 325L466.1 327M473.2 333.8L475.6 336M475.6 336L477.9 338.1M477.9 338.1L480 340M480 340L482.6 342.2M482.6 342.2L484.9 344.2M842 371L844.3 373M844.3 373L846.7 375.1M846.7 375.1L849.1 377.3M863.3 391.4L865.7 394M865.7 394L867.9 396.5M867.9 396.5L870 399M878.7 433.3L876.9 435.3M810.8 449.6L808 452M808 452L805.5 454.9M814.1 512.7L816.6 515.6M816.6 515.6L819.2 518.5M819.2 518.5L822 521M1190.8 535.3L1193.5 533M1196.1 530.5L1198.6 527.8M1198.6 527.8L1201 525M1211.5 510.7L1213.7 508.1M1213.7 508.1L1215.8 505.8M1215.8 505.8L1217.8 504M1239.2 506L1241.5 508M1241.5 508L1243.9 510.8"/>
<path class="ln" stroke="#f00" stroke-width="0.7" d="M364.1 335.2L366.5 332.8M366.5 332.8L368.9 330.4M456.6 317.7L458.9 320M458.9 320L461.3 322.4M461.3 322.4L464 325M466.1 327L468.4 329.2M468.4 329.2L470.8 331.5M470.8 331.5L473.2 333.8M849.1 377.3L851.4 379.5M851.4 379.5L853.7 381.7M853.7 381.7L855.9 383.9M855.9 383.9L858 386M858 386L860.7 388.7M860.7 388.7L863.3 391.4M1193.5 533L1196.1 530.5"/>
<g class="zone"><text x="128.0" y="23.6" transform="translate(128.0 0) scale(.82 1) translate(-128.0 0)">1</text>
<text x="128.0" y="999.0" transform="translate(128.0 0) scale(.82 1) translate(-128.0 0)">1</text>
<text x="361.5" y="23.6" transform="translate(361.5 0) scale(.82 1) translate(-361.5 0)">2</text>
<text x="361.5" y="999.0" transform="translate(361.5 0) scale(.82 1) translate(-361.5 0)">2</text>
<text x="595.3" y="23.6" transform="translate(595.3 0) scale(.82 1) translate(-595.3 0)">3</text>
<text x="595.3" y="999.0" transform="translate(595.3 0) scale(.82 1) translate(-595.3 0)">3</text>
<text x="829.0" y="23.6" transform="translate(829.0 0) scale(.82 1) translate(-829.0 0)">4</text>
<text x="829.0" y="999.0" transform="translate(829.0 0) scale(.82 1) translate(-829.0 0)">4</text>
<text x="1062.2" y="23.6" transform="translate(1062.2 0) scale(.82 1) translate(-1062.2 0)">5</text>
<text x="1062.2" y="999.0" transform="translate(1062.2 0) scale(.82 1) translate(-1062.2 0)">5</text>
<text x="1296.0" y="23.6" transform="translate(1296.0 0) scale(.82 1) translate(-1296.0 0)">6</text>
<text x="1296.0" y="999.0" transform="translate(1296.0 0) scale(.82 1) translate(-1296.0 0)">6</text>
<text x="52.3" y="140.4" transform="translate(52.3 0) scale(.84 1) translate(-52.3 0)">A</text>
<text x="1404.4" y="140.4" transform="translate(1404.4 0) scale(.84 1) translate(-1404.4 0)">A</text>
<text x="52.3" y="388.4" transform="translate(52.3 0) scale(.84 1) translate(-52.3 0)">B</text>
<text x="1404.4" y="388.4" transform="translate(1404.4 0) scale(.84 1) translate(-1404.4 0)">B</text>
<text x="52.3" y="636.4" transform="translate(52.3 0) scale(.84 1) translate(-52.3 0)">C</text>
<text x="1404.4" y="636.4" transform="translate(1404.4 0) scale(.84 1) translate(-1404.4 0)">C</text>
<text x="52.3" y="884.4" transform="translate(52.3 0) scale(.84 1) translate(-52.3 0)">D</text>
<text x="1404.4" y="884.4" transform="translate(1404.4 0) scale(.84 1) translate(-1404.4 0)">D</text></g>
<path class="ln" stroke="#0f0" d="M260.5 57.5L260.5 38.5M260.5 38.5L260.5 35.5M263.5 33.5L264.5 33.5M266.5 34.5L266.5 35.5M267.5 38.5L267.5 41.5M245.5 57.5L253.5 57.5M253.5 57.5L254.5 46.5M251.5 49.5L248.5 49.5M244.5 45.5L244.5 42.5M244.5 42.5L244.5 39.5M244.5 39.5L244.5 36.5M248.5 33.5L251.5 33.5M254.5 35.5L254.5 37.5M239.5 41.5L228.5 41.5M232.5 57.5L232.5 33.5M223.5 52.5L224.5 46.5M224.5 46.5L224.5 43.5M224.5 43.5L223.5 37.5M220.5 33.5L218.5 33.5M214.5 37.5L214.5 43.5M214.5 43.5L214.5 46.5M214.5 46.5L214.5 52.5M218.5 57.5L220.5 57.5M208.5 55.5L208.5 53.5M208.5 53.5L208.5 51.5M208.5 51.5L208.5 49.5M198.5 41.5L198.5 37.5M202.5 33.5L205.5 33.5M208.5 34.5L208.5 35.5M209.5 37.5L209.5 41.5M199.5 51.5L199.5 53.5M202.5 57.5L205.5 57.5M193.5 52.5L194.5 46.5M194.5 46.5L194.5 43.5M194.5 43.5L193.5 37.5M189.5 33.5L188.5 33.5M184.5 37.5L183.5 43.5M183.5 43.5L183.5 46.5M183.5 46.5L184.5 52.5M188.5 57.5L189.5 57.5M178.5 52.5L179.5 46.5M179.5 46.5L179.5 43.5M179.5 43.5L178.5 37.5M174.5 33.5L173.5 33.5M169.5 37.5L168.5 43.5M168.5 43.5L168.5 46.5M168.5 46.5L169.5 52.5M173.5 57.5L174.5 57.5M163.5 52.5L164.5 46.5M164.5 46.5L164.5 43.5M164.5 43.5L163.5 37.5M159.5 33.5L158.5 33.5M154.5 37.5L153.5 43.5M153.5 43.5L153.5 46.5M153.5 46.5L154.5 52.5M158.5 57.5L159.5 57.5M148.5 52.5L149.5 46.5M149.5 46.5L149.5 43.5M149.5 43.5L148.5 37.5M144.5 33.5L143.5 33.5M139.5 37.5L138.5 43.5M138.5 43.5L138.5 46.5M138.5 46.5L139.5 52.5M143.5 57.5L144.5 57.5M133.5 52.5L134.5 46.5M134.5 46.5L134.5 43.5M134.5 43.5L133.5 37.5M129.5 33.5L128.5 33.5M124.5 37.5L123.5 43.5M123.5 43.5L123.5 46.5M123.5 46.5L124.5 52.5M128.5 57.5L129.5 57.5M818.5 666.5L812.5 666.5M812.5 666.5L811.5 672.5M811.5 672.5L812.5 672.5M813.5 671.5L815.5 671.5M819.5 675.5L819.5 677.5M815.5 681.5L813.5 681.5M812.5 680.5L811.5 680.5M836.5 668.5L836.5 670.5M836.5 670.5L836.5 672.5M836.5 672.5L836.5 675.5M836.5 675.5L836.5 677.5M836.5 677.5L836.5 679.5M838.5 681.5L840.5 681.5M843.5 677.5L843.5 675.5M843.5 675.5L843.5 672.5M843.5 672.5L843.5 670.5M840.5 666.5L838.5 666.5M847.5 670.5L847.5 669.5M847.5 669.5L847.5 667.5M847.5 667.5L848.5 667.5M849.5 666.5L851.5 666.5M853.5 669.5L853.5 670.5M846.5 681.5L853.5 681.5M856.5 670.5L856.5 669.5M858.5 666.5L860.5 666.5M861.5 667.5L862.5 667.5M862.5 667.5L862.5 669.5M862.5 669.5L862.5 670.5M862.5 670.5L862.5 672.5M856.5 681.5L863.5 681.5M866.5 681.5L866.5 666.5M874.5 666.5L874.5 681.5M878.5 666.5L878.5 681.5M878.5 666.5L881.5 666.5M884.5 668.5L884.5 670.5M885.5 672.5L885.5 675.5M884.5 677.5L884.5 679.5M881.5 681.5L878.5 681.5M888.5 675.5L897.5 675.5M901.5 666.5L901.5 681.5M901.5 681.5L907.5 681.5M912.5 666.5L912.5 681.5M918.5 672.5L918.5 675.5M921.5 681.5L922.5 681.5M925.5 678.5L925.5 675.5M925.5 675.5L925.5 672.5M925.5 672.5L925.5 669.5M922.5 666.5L921.5 666.5M1087.5 666.5L1082.5 666.5M1082.5 666.5L1081.5 672.5M1081.5 672.5L1082.5 672.5M1083.5 671.5L1085.5 671.5M1088.5 675.5L1088.5 677.5M1085.5 681.5L1083.5 681.5M1082.5 680.5L1081.5 680.5M1081.5 680.5L1081.5 678.5M1304.5 666.5L1302.5 666.5M1302.5 666.5L1302.5 669.5M1301.5 672.5L1301.5 676.5M1302.5 679.5L1302.5 681.5M1304.5 682.5L1305.5 682.5M1307.5 679.5L1307.5 676.5M1307.5 676.5L1307.5 672.5M1307.5 672.5L1307.5 669.5M1306.5 666.5L1305.5 666.5M1305.5 666.5L1304.5 666.5M1311.5 669.5L1312.5 669.5M1313.5 666.5L1313.5 681.5M1318.5 673.5L1318.5 675.5M1320.5 681.5L1321.5 681.5M1321.5 681.5L1322.5 681.5M1322.5 681.5L1323.5 681.5M1324.5 679.5L1324.5 675.5M1324.5 675.5L1324.5 673.5M1324.5 673.5L1324.5 669.5M1322.5 666.5L1321.5 666.5M1337.5 681.5L1337.5 666.5M1337.5 666.5L1340.5 681.5M1344.5 666.5L1344.5 681.5M1348.5 669.5L1349.5 669.5M1350.5 666.5L1350.5 681.5M1359.5 666.5L1358.5 666.5M1355.5 673.5L1355.5 676.5M1357.5 681.5L1358.5 681.5M1358.5 681.5L1360.5 681.5M1361.5 679.5L1361.5 677.5M1361.5 677.5L1361.5 676.5M1361.5 676.5L1361.5 674.5M1364.5 670.5L1364.5 669.5M1364.5 669.5L1364.5 668.5M1366.5 666.5L1367.5 666.5M1369.5 668.5L1369.5 669.5M1369.5 669.5L1369.5 671.5M1369.5 671.5L1369.5 672.5M1367.5 674.5L1367.5 676.5M1366.5 681.5L1367.5 681.5M1367.5 681.5L1367.5 680.5M1372.5 681.5L1373.5 681.5M1373.5 681.5L1373.5 680.5M1381.5 666.5L1377.5 666.5M1377.5 666.5L1376.5 673.5M1378.5 671.5L1380.5 671.5M1382.5 674.5L1382.5 676.5M1382.5 676.5L1382.5 677.5M1382.5 677.5L1382.5 679.5M1381.5 681.5L1380.5 681.5M1380.5 681.5L1378.5 681.5M1378.5 681.5L1377.5 681.5M1376.5 680.5L1376.5 679.5M810.5 703.5L819.5 703.5M816.5 693.5L816.5 708.5M840.5 693.5L840.5 704.5M840.5 704.5L840.5 707.5M840.5 707.5L839.5 707.5M838.5 708.5L837.5 708.5M836.5 707.5L836.5 704.5M836.5 704.5L836.5 703.5M850.5 693.5L845.5 693.5M845.5 693.5L844.5 699.5M844.5 699.5L845.5 699.5M846.5 698.5L848.5 698.5M851.5 702.5L851.5 704.5M848.5 708.5L846.5 708.5M845.5 707.5L844.5 707.5M844.5 707.5L844.5 705.5M854.5 703.5L861.5 703.5M858.5 693.5L858.5 708.5M863.5 699.5L863.5 702.5M866.5 708.5L867.5 708.5M870.5 705.5L870.5 702.5M870.5 702.5L870.5 699.5M870.5 699.5L870.5 696.5M867.5 693.5L866.5 693.5M873.5 695.5L873.5 697.5M875.5 699.5L877.5 699.5M880.5 703.5L880.5 705.5M877.5 708.5L875.5 708.5M874.5 707.5L873.5 707.5M873.5 707.5L873.5 705.5M873.5 705.5L873.5 703.5M873.5 703.5L873.5 702.5M876.5 699.5L878.5 699.5M879.5 698.5L879.5 697.5M879.5 697.5L879.5 695.5M879.5 695.5L879.5 694.5M877.5 693.5L875.5 693.5M883.5 696.5L883.5 699.5M883.5 699.5L883.5 702.5M883.5 702.5L883.5 705.5M886.5 708.5L887.5 708.5M890.5 702.5L890.5 699.5M887.5 693.5L886.5 693.5M892.5 699.5L892.5 702.5M895.5 708.5L896.5 708.5M899.5 705.5L899.5 702.5M899.5 702.5L899.5 699.5M899.5 699.5L899.5 696.5M896.5 693.5L895.5 693.5M902.5 699.5L902.5 702.5M905.5 708.5L906.5 708.5M908.5 707.5L908.5 705.5M909.5 702.5L909.5 699.5M908.5 696.5L908.5 694.5M906.5 693.5L905.5 693.5M912.5 696.5L912.5 699.5M912.5 699.5L912.5 702.5M912.5 702.5L912.5 705.5M915.5 708.5L916.5 708.5M919.5 702.5L919.5 699.5M916.5 693.5L915.5 693.5M926.5 693.5L926.5 708.5M1086.5 693.5L1086.5 708.5M1138.5 695.5L1138.5 697.5M1138.5 697.5L1138.5 699.5M1138.5 699.5L1138.5 702.5M1138.5 702.5L1138.5 704.5M1138.5 704.5L1138.5 706.5M1140.5 708.5L1142.5 708.5M1145.5 704.5L1145.5 702.5M1145.5 702.5L1145.5 699.5M1145.5 699.5L1145.5 697.5M1142.5 693.5L1140.5 693.5M1149.5 697.5L1149.5 696.5M1149.5 696.5L1149.5 694.5M1149.5 694.5L1150.5 694.5M1151.5 693.5L1153.5 693.5M1155.5 696.5L1155.5 697.5M1148.5 708.5L1155.5 708.5M1159.5 693.5L1165.5 693.5M1162.5 699.5L1163.5 699.5M1163.5 699.5L1164.5 699.5M1165.5 700.5L1165.5 702.5M1165.5 702.5L1165.5 704.5M1165.5 704.5L1165.5 706.5M1162.5 708.5L1161.5 708.5M1174.5 693.5L1169.5 693.5M1169.5 693.5L1169.5 699.5M1171.5 698.5L1172.5 698.5M1175.5 700.5L1175.5 702.5M1175.5 702.5L1175.5 704.5M1175.5 704.5L1175.5 706.5M1172.5 708.5L1171.5 708.5M1179.5 703.5L1184.5 703.5M812.5 720.5L818.5 720.5M815.5 726.5L816.5 726.5M819.5 729.5L819.5 731.5M815.5 735.5L813.5 735.5M812.5 734.5L811.5 734.5M1086.5 729.5L1084.5 729.5M1084.5 729.5L1082.5 729.5M1081.5 727.5L1081.5 725.5M1081.5 725.5L1081.5 724.5M1081.5 724.5L1081.5 722.5M1088.5 725.5L1088.5 729.5M1084.5 735.5L1083.5 735.5M1302.5 721.5L1302.5 723.5M1301.5 726.5L1301.5 730.5M1302.5 733.5L1302.5 736.5M1302.5 736.5L1304.5 736.5M1304.5 736.5L1305.5 736.5M1305.5 736.5L1306.5 736.5M1307.5 733.5L1307.5 730.5M1307.5 730.5L1307.5 726.5M1307.5 726.5L1307.5 723.5M1305.5 720.5L1304.5 720.5M1311.5 723.5L1312.5 723.5M1313.5 721.5L1313.5 736.5M1319.5 724.5L1319.5 723.5M1319.5 723.5L1319.5 722.5M1320.5 721.5L1322.5 721.5M1322.5 721.5L1323.5 721.5M1324.5 722.5L1324.5 723.5M1324.5 723.5L1324.5 725.5M1324.5 725.5L1324.5 726.5M1318.5 736.5L1324.5 736.5M1337.5 736.5L1337.5 721.5M1337.5 721.5L1340.5 736.5M1344.5 721.5L1344.5 736.5M1348.5 723.5L1349.5 723.5M1350.5 721.5L1350.5 736.5M1360.5 721.5L1359.5 721.5M1359.5 721.5L1358.5 721.5M1358.5 721.5L1357.5 721.5M1355.5 727.5L1355.5 731.5M1361.5 733.5L1361.5 731.5M1361.5 731.5L1361.5 728.5M1364.5 724.5L1364.5 723.5M1364.5 723.5L1364.5 722.5M1365.5 721.5L1366.5 721.5M1366.5 721.5L1367.5 721.5M1367.5 721.5L1368.5 721.5M1369.5 722.5L1369.5 723.5M1369.5 723.5L1369.5 725.5M1369.5 725.5L1369.5 726.5M1367.5 728.5L1367.5 731.5M1367.5 736.5L1367.5 735.5M1367.5 735.5L1367.5 734.5M1373.5 736.5L1373.5 735.5M1373.5 735.5L1373.5 734.5M1381.5 721.5L1377.5 721.5M1377.5 721.5L1376.5 727.5M1377.5 726.5L1378.5 726.5M1378.5 726.5L1380.5 726.5M1380.5 726.5L1381.5 726.5M1382.5 728.5L1382.5 730.5M1382.5 730.5L1382.5 731.5M1382.5 731.5L1382.5 733.5M1380.5 736.5L1378.5 736.5M1376.5 734.5L1376.5 733.5M811.5 750.5L811.5 749.5M812.5 748.5L812.5 747.5M813.5 746.5L816.5 746.5M818.5 748.5L818.5 749.5M818.5 749.5L818.5 751.5M818.5 751.5L818.5 752.5M810.5 761.5L819.5 761.5M836.5 746.5L836.5 761.5M846.5 756.5L851.5 756.5M855.5 755.5L864.5 755.5M868.5 746.5L868.5 761.5M868.5 761.5L874.5 761.5M877.5 749.5L878.5 749.5M880.5 746.5L880.5 761.5M886.5 749.5L886.5 753.5M886.5 753.5L886.5 755.5M886.5 755.5L886.5 759.5M887.5 761.5L889.5 761.5M889.5 761.5L890.5 761.5M890.5 761.5L891.5 761.5M893.5 755.5L893.5 753.5M890.5 746.5L889.5 746.5M1087.5 749.5L1087.5 747.5M1085.5 746.5L1084.5 746.5M1081.5 749.5L1081.5 753.5M1081.5 753.5L1081.5 756.5M1081.5 756.5L1081.5 759.5M1082.5 761.5L1084.5 761.5M1084.5 761.5L1086.5 761.5M1088.5 757.5L1088.5 756.5M1081.5 754.5L1081.5 756.5M1302.5 747.5L1302.5 749.5M1301.5 753.5L1301.5 756.5M1302.5 760.5L1302.5 762.5M1304.5 763.5L1305.5 763.5M1307.5 760.5L1307.5 756.5M1307.5 756.5L1307.5 753.5M1307.5 753.5L1307.5 749.5M1305.5 746.5L1304.5 746.5M1313.5 747.5L1313.5 762.5M1318.5 753.5L1318.5 755.5M1321.5 762.5L1322.5 762.5M1324.5 759.5L1324.5 755.5M1324.5 755.5L1324.5 753.5M1324.5 753.5L1324.5 750.5M1322.5 747.5L1321.5 747.5M1337.5 762.5L1337.5 747.5M1337.5 747.5L1340.5 762.5M1344.5 747.5L1344.5 762.5M1350.5 747.5L1350.5 762.5M1359.5 747.5L1358.5 747.5M1355.5 753.5L1355.5 757.5M1361.5 760.5L1361.5 758.5M1361.5 758.5L1361.5 757.5M1361.5 757.5L1361.5 755.5M1360.5 753.5L1358.5 753.5M1358.5 753.5L1357.5 753.5M1364.5 750.5L1364.5 748.5M1364.5 748.5L1365.5 748.5M1366.5 747.5L1367.5 747.5M1368.5 748.5L1369.5 748.5M1369.5 748.5L1369.5 750.5M1369.5 750.5L1369.5 751.5M1369.5 751.5L1369.5 753.5M1369.5 753.5L1368.5 753.5M1367.5 755.5L1367.5 757.5M1367.5 762.5L1367.5 761.5M1367.5 761.5L1367.5 760.5M1373.5 762.5L1373.5 761.5M1373.5 761.5L1373.5 760.5M1381.5 747.5L1377.5 747.5M1377.5 747.5L1376.5 753.5M1376.5 753.5L1377.5 753.5M1378.5 752.5L1380.5 752.5M1382.5 754.5L1382.5 756.5M1382.5 756.5L1382.5 758.5M1382.5 758.5L1382.5 760.5M1380.5 762.5L1378.5 762.5M1376.5 760.5L1376.5 759.5M816.5 773.5L816.5 788.5M965.5 778.5L965.5 780.5M964.5 782.5L963.5 782.5M963.5 782.5L961.5 782.5M961.5 782.5L961.5 780.5M960.5 778.5L960.5 777.5M961.5 775.5L961.5 774.5M965.5 775.5L965.5 778.5M965.5 778.5L965.5 782.5M965.5 782.5L965.5 785.5M963.5 788.5L962.5 788.5M961.5 787.5L961.5 786.5M968.5 780.5L968.5 782.5M971.5 788.5L972.5 788.5M974.5 785.5L974.5 782.5M974.5 782.5L974.5 780.5M974.5 780.5L974.5 776.5M972.5 773.5L971.5 773.5M977.5 773.5L977.5 774.5M977.5 774.5L977.5 775.5M978.5 774.5L978.5 775.5M1087.5 775.5L1087.5 774.5M1085.5 773.5L1084.5 773.5M1081.5 776.5L1081.5 780.5M1081.5 780.5L1081.5 783.5M1081.5 783.5L1081.5 786.5M1088.5 784.5L1088.5 783.5M1081.5 781.5L1081.5 783.5M1301.5 789.5L1301.5 774.5M1301.5 774.5L1304.5 789.5M1304.5 789.5L1306.5 774.5M1306.5 774.5L1306.5 789.5M1309.5 776.5L1310.5 776.5M1311.5 774.5L1311.5 789.5M1315.5 784.5L1319.5 784.5M1318.5 774.5L1318.5 789.5M1321.5 777.5L1321.5 776.5M1321.5 776.5L1321.5 775.5M1322.5 774.5L1324.5 774.5M1325.5 775.5L1325.5 776.5M1325.5 776.5L1325.5 778.5M1325.5 778.5L1325.5 779.5M1323.5 781.5L1323.5 784.5M1323.5 787.5L1323.5 788.5M1323.5 788.5L1323.5 789.5M1323.5 789.5L1323.5 788.5M1323.5 788.5L1323.5 787.5M1327.5 787.5L1327.5 788.5M1327.5 788.5L1327.5 789.5M1334.5 774.5L1331.5 774.5M1331.5 774.5L1330.5 780.5M1331.5 779.5L1332.5 779.5M1332.5 779.5L1333.5 779.5M1334.5 781.5L1334.5 783.5M1334.5 783.5L1334.5 784.5M1334.5 784.5L1334.5 786.5M1330.5 787.5L1330.5 786.5M1341.5 771.5L1336.5 794.5M1344.5 789.5L1344.5 774.5M1344.5 774.5L1346.5 789.5M1346.5 789.5L1349.5 774.5M1349.5 774.5L1349.5 789.5M1353.5 774.5L1353.5 789.5M1361.5 776.5L1361.5 774.5M1361.5 774.5L1360.5 774.5M1360.5 774.5L1359.5 774.5M1359.5 774.5L1358.5 774.5M1358.5 774.5L1358.5 776.5M1357.5 780.5L1357.5 784.5M1358.5 786.5L1358.5 788.5M1361.5 786.5L1361.5 784.5M1361.5 784.5L1361.5 781.5M1358.5 780.5L1358.5 781.5M1364.5 777.5L1364.5 776.5M1364.5 776.5L1364.5 775.5M1364.5 775.5L1364.5 774.5M1364.5 774.5L1365.5 774.5M1365.5 774.5L1366.5 774.5M1366.5 774.5L1367.5 774.5M1367.5 774.5L1367.5 775.5M1367.5 775.5L1367.5 776.5M1367.5 776.5L1367.5 778.5M1367.5 778.5L1367.5 779.5M1367.5 779.5L1367.5 780.5M1365.5 781.5L1365.5 784.5M1365.5 787.5L1365.5 788.5M1365.5 788.5L1365.5 789.5M1370.5 787.5L1370.5 788.5M1370.5 788.5L1370.5 789.5M1370.5 789.5L1370.5 788.5M1370.5 788.5L1370.5 787.5M1376.5 774.5L1373.5 774.5M1373.5 774.5L1373.5 780.5M1373.5 780.5L1373.5 779.5M1373.5 779.5L1374.5 779.5M1374.5 779.5L1375.5 779.5M1375.5 779.5L1376.5 779.5M1377.5 781.5L1377.5 783.5M1377.5 783.5L1377.5 784.5M1377.5 784.5L1377.5 786.5M1375.5 789.5L1374.5 789.5M1373.5 788.5L1373.5 787.5M950.5 973.5L950.5 972.5M950.5 972.5L950.5 971.5M950.5 971.5L950.5 970.5M950.5 970.5L951.5 970.5M951.5 970.5L952.5 970.5M952.5 970.5L953.5 970.5M953.5 970.5L953.5 971.5M953.5 971.5L953.5 972.5M953.5 972.5L953.5 973.5M953.5 973.5L953.5 975.5M950.5 982.5L953.5 982.5M957.5 970.5L956.5 970.5M955.5 972.5L955.5 975.5M955.5 975.5L955.5 977.5M955.5 977.5L955.5 980.5M956.5 982.5L957.5 982.5M957.5 982.5L958.5 982.5M959.5 980.5L959.5 977.5M959.5 977.5L959.5 975.5M959.5 975.5L959.5 972.5M958.5 970.5L957.5 970.5M962.5 970.5L961.5 970.5M961.5 970.5L961.5 972.5M961.5 972.5L961.5 975.5M961.5 975.5L961.5 977.5M961.5 977.5L961.5 980.5M961.5 980.5L961.5 982.5M961.5 982.5L962.5 982.5M962.5 982.5L963.5 982.5M963.5 982.5L964.5 982.5M964.5 982.5L964.5 980.5M964.5 980.5L964.5 977.5M964.5 977.5L964.5 975.5M964.5 975.5L964.5 972.5M964.5 972.5L964.5 970.5M964.5 970.5L963.5 970.5M963.5 970.5L962.5 970.5M969.5 970.5L967.5 970.5M967.5 970.5L966.5 975.5M966.5 975.5L967.5 975.5M967.5 975.5L967.5 974.5M967.5 974.5L968.5 974.5M970.5 976.5L970.5 977.5M970.5 977.5L970.5 979.5M970.5 979.5L970.5 980.5M969.5 982.5L968.5 982.5M968.5 982.5L967.5 982.5M966.5 981.5L966.5 980.5M972.5 977.5L977.5 977.5M982.5 974.5L982.5 976.5M981.5 977.5L980.5 977.5M980.5 977.5L979.5 977.5M979.5 977.5L979.5 976.5M979.5 976.5L979.5 974.5M979.5 974.5L979.5 973.5M979.5 973.5L979.5 972.5M979.5 972.5L979.5 970.5M979.5 970.5L980.5 970.5M980.5 970.5L981.5 970.5M982.5 972.5L982.5 974.5M982.5 974.5L982.5 977.5M982.5 977.5L982.5 980.5M981.5 982.5L980.5 982.5M980.5 982.5L979.5 982.5M979.5 982.5L979.5 980.5M984.5 977.5L989.5 977.5M992.5 972.5L993.5 972.5M994.5 970.5L994.5 982.5M1158.5 946.5L1158.5 959.5M1163.5 951.5L1164.5 951.5M1164.5 951.5L1164.5 950.5M1164.5 959.5L1164.5 958.5M1164.5 958.5L1164.5 957.5M1168.5 948.5L1169.5 948.5M1170.5 946.5L1170.5 959.5M1175.5 957.5L1175.5 958.5M1175.5 958.5L1175.5 959.5M1183.5 946.5L1179.5 946.5M1179.5 946.5L1179.5 951.5M1180.5 950.5L1182.5 950.5M1184.5 952.5L1184.5 954.5M1184.5 954.5L1184.5 955.5M1184.5 955.5L1184.5 957.5M1182.5 959.5L1180.5 959.5M1179.5 958.5L1179.5 957.5M1250.5 948.5L1250.5 960.5M1250.5 960.5L1250.5 962.5M1248.5 964.5L1247.5 964.5M1245.5 962.5L1245.5 960.5M1245.5 960.5L1245.5 958.5M1260.5 948.5L1255.5 948.5M1255.5 948.5L1254.5 954.5M1254.5 954.5L1255.5 954.5M1257.5 953.5L1258.5 953.5M1261.5 955.5L1261.5 958.5M1261.5 958.5L1261.5 959.5M1261.5 959.5L1261.5 961.5M1258.5 964.5L1257.5 964.5M1254.5 962.5L1254.5 961.5M1265.5 958.5L1273.5 958.5M1270.5 948.5L1270.5 964.5M1278.5 948.5L1277.5 948.5M1275.5 954.5L1275.5 957.5M1278.5 964.5L1279.5 964.5M1283.5 957.5L1283.5 954.5M1281.5 948.5L1279.5 948.5M1279.5 948.5L1278.5 948.5M1288.5 948.5L1287.5 948.5M1286.5 950.5L1286.5 951.5M1288.5 954.5L1290.5 954.5M1293.5 957.5L1293.5 958.5M1293.5 958.5L1293.5 961.5M1293.5 961.5L1293.5 962.5M1291.5 964.5L1288.5 964.5M1286.5 962.5L1286.5 961.5M1286.5 961.5L1286.5 958.5M1286.5 958.5L1286.5 957.5M1289.5 954.5L1291.5 954.5M1293.5 951.5L1293.5 950.5M1292.5 948.5L1291.5 948.5M1291.5 948.5L1288.5 948.5M1300.5 948.5L1298.5 948.5M1296.5 954.5L1296.5 957.5M1300.5 964.5L1301.5 964.5M1304.5 957.5L1304.5 954.5M1302.5 948.5L1301.5 948.5M1301.5 948.5L1300.5 948.5M1310.5 948.5L1309.5 948.5M1307.5 954.5L1307.5 957.5M1310.5 964.5L1311.5 964.5M1314.5 961.5L1314.5 957.5M1314.5 957.5L1314.5 954.5M1314.5 954.5L1314.5 951.5M1313.5 948.5L1311.5 948.5M1311.5 948.5L1310.5 948.5M1321.5 948.5L1319.5 948.5M1318.5 951.5L1318.5 954.5M1318.5 954.5L1318.5 957.5M1318.5 957.5L1318.5 961.5M1321.5 964.5L1322.5 964.5M1325.5 961.5L1325.5 957.5M1325.5 957.5L1325.5 954.5M1325.5 954.5L1325.5 951.5M1323.5 948.5L1322.5 948.5M1322.5 948.5L1321.5 948.5M1331.5 948.5L1330.5 948.5M1328.5 954.5L1328.5 957.5M1331.5 964.5L1332.5 964.5M1336.5 957.5L1336.5 954.5M1334.5 948.5L1332.5 948.5M1332.5 948.5L1331.5 948.5M1342.5 948.5L1340.5 948.5M1339.5 951.5L1339.5 954.5M1339.5 954.5L1339.5 957.5M1339.5 957.5L1339.5 961.5M1342.5 964.5L1343.5 964.5M1346.5 961.5L1346.5 957.5M1346.5 957.5L1346.5 954.5M1346.5 954.5L1346.5 951.5M1345.5 948.5L1343.5 948.5M1343.5 948.5L1342.5 948.5M308.5 232.5L308.5 235.5M308.5 235.5L308.5 237.5M308.5 237.5L308.5 240.5M311.5 242.5L312.5 242.5M315.5 237.5L315.5 235.5M312.5 230.5L311.5 230.5M320.5 233.5L320.5 232.5M322.5 231.5L322.5 241.5M327.5 233.5L327.5 232.5M328.5 231.5L329.5 231.5M329.5 231.5L330.5 231.5M330.5 231.5L331.5 231.5M332.5 232.5L332.5 233.5M332.5 233.5L332.5 234.5M332.5 234.5L332.5 235.5M327.5 241.5L333.5 241.5M319.5 737.5L319.5 725.5M326.5 725.5L326.5 737.5M333.5 725.5L333.5 737.5M338.5 733.5L345.5 733.5M343.5 725.5L343.5 737.5M348.5 726.5L348.5 725.5M348.5 725.5L349.5 725.5M349.5 725.5L351.5 725.5M351.5 725.5L352.5 725.5M352.5 725.5L352.5 726.5M353.5 727.5L353.5 728.5M352.5 729.5L352.5 730.5M350.5 731.5L350.5 733.5M350.5 737.5L350.5 736.5M350.5 736.5L350.5 735.5M356.5 735.5L356.5 736.5M356.5 736.5L356.5 737.5M365.5 725.5L361.5 725.5M361.5 725.5L360.5 730.5M361.5 729.5L362.5 729.5M362.5 729.5L363.5 729.5M363.5 729.5L365.5 729.5M366.5 730.5L366.5 732.5M366.5 732.5L366.5 733.5M366.5 733.5L366.5 735.5M363.5 737.5L362.5 737.5M360.5 735.5L360.5 734.5"/>
<path class="ln" stroke="#0f0" stroke-width="0.95" d="M266.5 35.5L267.5 38.5M222.5 55.5L223.5 52.5M223.5 37.5L222.5 34.5M206.5 47.5L203.5 46.5M205.5 33.5L208.5 34.5M205.5 46.5L202.5 47.5M192.5 55.5L193.5 52.5M193.5 37.5L192.5 34.5M192.5 34.5L189.5 33.5M177.5 55.5L178.5 52.5M178.5 37.5L177.5 34.5M177.5 34.5L174.5 33.5M162.5 55.5L163.5 52.5M163.5 37.5L162.5 34.5M162.5 34.5L159.5 33.5M143.5 33.5L140.5 34.5M140.5 34.5L139.5 37.5M139.5 52.5L140.5 55.5M128.5 33.5L125.5 34.5M125.5 34.5L124.5 37.5M124.5 52.5L125.5 55.5M866.5 666.5L870.5 681.5M870.5 681.5L874.5 666.5M919.5 669.5L918.5 672.5M918.5 675.5L919.5 678.5M1302.5 669.5L1301.5 672.5M1301.5 676.5L1302.5 679.5M1307.5 669.5L1306.5 666.5M1307.5 664.5L1302.5 684.5M1312.5 669.5L1313.5 666.5M1319.5 669.5L1318.5 673.5M1318.5 675.5L1319.5 679.5M1334.5 664.5L1327.5 686.5M1340.5 681.5L1344.5 666.5M1349.5 669.5L1350.5 666.5M1356.5 669.5L1355.5 673.5M1355.5 676.5L1356.5 679.5M858.5 693.5L854.5 703.5M864.5 696.5L863.5 699.5M863.5 702.5L864.5 705.5M889.5 705.5L890.5 702.5M890.5 699.5L889.5 696.5M893.5 696.5L892.5 699.5M892.5 702.5L893.5 705.5M903.5 696.5L902.5 699.5M902.5 702.5L903.5 705.5M908.5 705.5L909.5 702.5M909.5 699.5L908.5 696.5M918.5 705.5L919.5 702.5M919.5 699.5L918.5 696.5M1181.5 693.5L1177.5 708.5M1181.5 693.5L1185.5 708.5M1087.5 722.5L1088.5 725.5M1088.5 729.5L1087.5 732.5M1302.5 723.5L1301.5 726.5M1301.5 730.5L1302.5 733.5M1306.5 736.5L1307.5 733.5M1307.5 718.5L1302.5 738.5M1334.5 718.5L1327.5 741.5M1340.5 736.5L1344.5 721.5M1356.5 723.5L1355.5 727.5M1356.5 728.5L1355.5 731.5M849.5 746.5L845.5 761.5M849.5 746.5L853.5 761.5M892.5 759.5L893.5 755.5M893.5 753.5L892.5 749.5M1302.5 749.5L1301.5 753.5M1301.5 756.5L1302.5 760.5M1307.5 745.5L1302.5 764.5M1319.5 750.5L1318.5 753.5M1318.5 755.5L1319.5 759.5M1334.5 744.5L1327.5 767.5M1340.5 762.5L1344.5 747.5M1356.5 750.5L1355.5 753.5M1355.5 757.5L1356.5 760.5M969.5 776.5L968.5 780.5M968.5 782.5L969.5 785.5M1318.5 774.5L1315.5 784.5M1358.5 776.5L1357.5 780.5M1358.5 781.5L1357.5 784.5M952.5 976.5L950.5 982.5M1277.5 948.5L1276.5 951.5M1276.5 951.5L1275.5 954.5M1275.5 957.5L1276.5 961.5M1282.5 961.5L1283.5 957.5M1283.5 954.5L1282.5 951.5M1282.5 951.5L1281.5 948.5M1298.5 948.5L1297.5 951.5M1297.5 951.5L1296.5 954.5M1296.5 957.5L1297.5 961.5M1303.5 961.5L1304.5 957.5M1304.5 954.5L1303.5 951.5M1303.5 951.5L1302.5 948.5M1309.5 948.5L1308.5 951.5M1308.5 951.5L1307.5 954.5M1307.5 957.5L1308.5 961.5M1314.5 951.5L1313.5 948.5M1319.5 948.5L1318.5 951.5M1330.5 948.5L1329.5 951.5M1329.5 951.5L1328.5 954.5M1328.5 957.5L1329.5 961.5M1335.5 961.5L1336.5 957.5M1336.5 954.5L1335.5 951.5M1335.5 951.5L1334.5 948.5M1340.5 948.5L1339.5 951.5M1346.5 951.5L1345.5 948.5M314.5 240.5L315.5 237.5M315.5 235.5L314.5 232.5M319.5 725.5L322.5 737.5M322.5 737.5L326.5 725.5"/>
<path class="ln" stroke="#0f0" stroke-width="0.9" d="M261.5 34.5L263.5 33.5M264.5 33.5L266.5 34.5M246.5 34.5L248.5 33.5M251.5 33.5L253.5 34.5M232.5 57.5L239.5 41.5M222.5 34.5L220.5 33.5M218.5 33.5L216.5 34.5M203.5 46.5L201.5 45.5M199.5 43.5L198.5 41.5M198.5 37.5L199.5 35.5M200.5 34.5L202.5 33.5M208.5 35.5L209.5 37.5M209.5 41.5L208.5 43.5M208.5 43.5L207.5 45.5M207.5 45.5L205.5 46.5M200.5 49.5L199.5 51.5M199.5 53.5L200.5 55.5M188.5 33.5L186.5 34.5M173.5 33.5L171.5 34.5M158.5 33.5L156.5 34.5M146.5 34.5L144.5 33.5M131.5 34.5L129.5 33.5M815.5 671.5L817.5 672.5M818.5 673.5L819.5 675.5M819.5 677.5L818.5 679.5M817.5 680.5L815.5 681.5M811.5 680.5L810.5 678.5M842.5 679.5L843.5 677.5M843.5 670.5L842.5 668.5M852.5 667.5L853.5 669.5M853.5 670.5L852.5 672.5M852.5 672.5L851.5 674.5M856.5 669.5L857.5 667.5M862.5 672.5L861.5 674.5M881.5 666.5L883.5 667.5M884.5 670.5L885.5 672.5M885.5 675.5L884.5 677.5M883.5 680.5L881.5 681.5M911.5 668.5L912.5 666.5M920.5 667.5L919.5 669.5M919.5 678.5L920.5 680.5M922.5 681.5L924.5 680.5M924.5 680.5L925.5 678.5M925.5 669.5L924.5 667.5M924.5 667.5L922.5 666.5M1087.5 673.5L1088.5 675.5M1088.5 677.5L1087.5 679.5M1302.5 681.5L1304.5 682.5M1306.5 681.5L1307.5 679.5M1320.5 667.5L1319.5 669.5M1319.5 679.5L1320.5 681.5M1323.5 681.5L1324.5 679.5M1324.5 669.5L1323.5 667.5M1361.5 669.5L1360.5 667.5M1357.5 667.5L1356.5 669.5M1356.5 679.5L1357.5 681.5M1360.5 681.5L1361.5 679.5M1360.5 673.5L1358.5 672.5M1356.5 674.5L1355.5 676.5M1381.5 672.5L1382.5 674.5M1382.5 679.5L1381.5 681.5M850.5 700.5L851.5 702.5M851.5 704.5L850.5 706.5M865.5 694.5L864.5 696.5M864.5 705.5L865.5 707.5M867.5 708.5L869.5 707.5M869.5 707.5L870.5 705.5M870.5 696.5L869.5 694.5M869.5 694.5L867.5 693.5M878.5 700.5L879.5 702.5M880.5 705.5L879.5 707.5M879.5 707.5L877.5 708.5M873.5 702.5L874.5 700.5M874.5 700.5L876.5 699.5M879.5 694.5L877.5 693.5M886.5 693.5L884.5 694.5M884.5 694.5L883.5 696.5M883.5 705.5L884.5 707.5M884.5 707.5L886.5 708.5M888.5 707.5L889.5 705.5M889.5 696.5L888.5 694.5M894.5 694.5L893.5 696.5M893.5 705.5L894.5 707.5M896.5 708.5L898.5 707.5M898.5 707.5L899.5 705.5M899.5 696.5L898.5 694.5M898.5 694.5L896.5 693.5M904.5 694.5L903.5 696.5M903.5 705.5L904.5 707.5M906.5 708.5L908.5 707.5M908.5 694.5L906.5 693.5M915.5 693.5L913.5 694.5M913.5 694.5L912.5 696.5M912.5 705.5L913.5 707.5M913.5 707.5L915.5 708.5M917.5 707.5L918.5 705.5M918.5 696.5L917.5 694.5M1144.5 706.5L1145.5 704.5M1145.5 697.5L1144.5 695.5M1154.5 694.5L1155.5 696.5M1155.5 697.5L1154.5 699.5M1154.5 699.5L1153.5 701.5M1165.5 693.5L1162.5 699.5M1164.5 707.5L1162.5 708.5M1161.5 708.5L1159.5 707.5M1159.5 707.5L1158.5 705.5M1169.5 699.5L1171.5 698.5M1172.5 698.5L1174.5 699.5M1174.5 707.5L1172.5 708.5M1171.5 708.5L1169.5 707.5M1169.5 707.5L1168.5 705.5M818.5 720.5L815.5 726.5M816.5 726.5L818.5 727.5M818.5 727.5L819.5 729.5M819.5 731.5L818.5 733.5M817.5 734.5L815.5 735.5M811.5 734.5L810.5 732.5M1088.5 725.5L1087.5 727.5M1087.5 727.5L1086.5 729.5M1082.5 729.5L1081.5 727.5M1082.5 721.5L1084.5 720.5M1084.5 720.5L1086.5 721.5M1087.5 732.5L1086.5 734.5M1086.5 734.5L1084.5 735.5M1304.5 720.5L1302.5 721.5M1307.5 723.5L1306.5 721.5M1312.5 723.5L1313.5 721.5M1324.5 726.5L1323.5 728.5M1349.5 723.5L1350.5 721.5M1361.5 723.5L1360.5 721.5M1357.5 721.5L1356.5 723.5M1355.5 731.5L1356.5 733.5M1356.5 733.5L1357.5 735.5M1358.5 736.5L1360.5 735.5M1360.5 735.5L1361.5 733.5M1360.5 727.5L1358.5 726.5M1381.5 726.5L1382.5 728.5M1382.5 733.5L1381.5 735.5M889.5 746.5L887.5 747.5M887.5 747.5L886.5 749.5M886.5 759.5L887.5 761.5M891.5 761.5L892.5 759.5M892.5 749.5L891.5 747.5M1087.5 747.5L1085.5 746.5M1084.5 746.5L1082.5 747.5M1082.5 747.5L1081.5 749.5M1081.5 759.5L1082.5 761.5M1086.5 761.5L1087.5 759.5M1087.5 759.5L1088.5 757.5M1088.5 756.5L1087.5 754.5M1086.5 753.5L1084.5 752.5M1084.5 752.5L1082.5 753.5M1304.5 746.5L1302.5 747.5M1302.5 762.5L1304.5 763.5M1306.5 762.5L1307.5 760.5M1307.5 749.5L1306.5 747.5M1312.5 749.5L1313.5 747.5M1320.5 748.5L1319.5 750.5M1319.5 759.5L1320.5 761.5M1323.5 761.5L1324.5 759.5M1324.5 750.5L1323.5 748.5M1349.5 749.5L1350.5 747.5M1357.5 748.5L1356.5 750.5M1358.5 762.5L1360.5 761.5M1361.5 755.5L1360.5 753.5M1357.5 753.5L1356.5 755.5M1356.5 755.5L1355.5 757.5M1368.5 753.5L1367.5 755.5M965.5 780.5L964.5 782.5M961.5 780.5L960.5 778.5M960.5 777.5L961.5 775.5M961.5 774.5L963.5 773.5M965.5 785.5L964.5 787.5M970.5 774.5L969.5 776.5M969.5 785.5L970.5 787.5M973.5 787.5L974.5 785.5M974.5 776.5L973.5 774.5M978.5 775.5L977.5 777.5M1087.5 774.5L1085.5 773.5M1084.5 773.5L1082.5 774.5M1082.5 774.5L1081.5 776.5M1082.5 787.5L1084.5 788.5M1084.5 788.5L1086.5 787.5M1087.5 786.5L1088.5 784.5M1088.5 783.5L1087.5 781.5M1086.5 780.5L1084.5 779.5M1084.5 779.5L1082.5 780.5M1310.5 776.5L1311.5 774.5M1333.5 779.5L1334.5 781.5M1334.5 786.5L1333.5 788.5M1352.5 776.5L1353.5 774.5M1357.5 784.5L1358.5 786.5M1360.5 788.5L1361.5 786.5M1367.5 780.5L1365.5 781.5M1376.5 779.5L1377.5 781.5M1377.5 786.5L1376.5 788.5M956.5 970.5L955.5 972.5M955.5 980.5L956.5 982.5M958.5 982.5L959.5 980.5M959.5 972.5L958.5 970.5M970.5 980.5L969.5 982.5M981.5 970.5L982.5 972.5M982.5 980.5L981.5 982.5M993.5 972.5L994.5 970.5M1157.5 948.5L1158.5 946.5M1169.5 948.5L1170.5 946.5M1255.5 954.5L1257.5 953.5M1258.5 953.5L1260.5 954.5M1261.5 961.5L1260.5 963.5M1260.5 963.5L1258.5 964.5M1257.5 964.5L1255.5 963.5M1270.5 948.5L1265.5 958.5M1276.5 961.5L1277.5 963.5M1279.5 964.5L1281.5 963.5M1281.5 963.5L1282.5 961.5M1287.5 948.5L1286.5 950.5M1286.5 951.5L1287.5 953.5M1290.5 954.5L1292.5 955.5M1292.5 955.5L1293.5 957.5M1286.5 957.5L1287.5 955.5M1287.5 955.5L1289.5 954.5M1292.5 953.5L1293.5 951.5M1293.5 950.5L1292.5 948.5M1297.5 961.5L1298.5 963.5M1298.5 963.5L1300.5 964.5M1302.5 963.5L1303.5 961.5M1308.5 961.5L1309.5 963.5M1311.5 964.5L1313.5 963.5M1313.5 963.5L1314.5 961.5M1318.5 961.5L1319.5 963.5M1319.5 963.5L1321.5 964.5M1329.5 961.5L1330.5 963.5M1332.5 964.5L1334.5 963.5M1334.5 963.5L1335.5 961.5M1339.5 961.5L1340.5 963.5M1340.5 963.5L1342.5 964.5M1343.5 964.5L1345.5 963.5M1345.5 963.5L1346.5 961.5M311.5 230.5L309.5 231.5M309.5 241.5L311.5 242.5M314.5 229.5L308.5 243.5M320.5 232.5L322.5 231.5M331.5 726.5L333.5 725.5M352.5 730.5L350.5 731.5M365.5 736.5L363.5 737.5"/>
<path class="ln" stroke="#0f0" stroke-width="0.85" d="M216.5 34.5L214.5 37.5M214.5 52.5L216.5 55.5M205.5 57.5L208.5 55.5M189.5 57.5L192.5 55.5M186.5 34.5L184.5 37.5M184.5 52.5L186.5 55.5M174.5 57.5L177.5 55.5M171.5 34.5L169.5 37.5M169.5 52.5L171.5 55.5M159.5 57.5L162.5 55.5M156.5 34.5L154.5 37.5M154.5 52.5L156.5 55.5M146.5 55.5L148.5 52.5M148.5 37.5L146.5 34.5M140.5 55.5L143.5 57.5M131.5 55.5L133.5 52.5M133.5 37.5L131.5 34.5M125.5 55.5L128.5 57.5M816.5 693.5L810.5 703.5M1323.5 728.5L1318.5 736.5M838.5 753.5L843.5 761.5M878.5 749.5L880.5 746.5M1325.5 951.5L1323.5 948.5M343.5 725.5L338.5 733.5"/>
<path class="ln" stroke="#0f0" stroke-width="0.8" d="M840.5 678.5L843.5 682.5M851.5 674.5L846.5 681.5M861.5 674.5L856.5 681.5M1142.5 705.5L1145.5 709.5M1153.5 701.5L1148.5 708.5M843.5 746.5L836.5 756.5M331.5 236.5L327.5 241.5"/>
<path class="ln" stroke="#0f0" stroke-width="0.75" d="M816.5 754.5L810.5 761.5"/>
<path class="ln" stroke="#0f0" stroke-width="0.7" d="M260.5 35.5L261.5 34.5M254.5 46.5L253.5 47.5M253.5 47.5L251.5 49.5M248.5 49.5L246.5 47.5M246.5 47.5L244.5 45.5M244.5 36.5L246.5 34.5M253.5 34.5L254.5 35.5M220.5 57.5L222.5 55.5M216.5 55.5L218.5 57.5M208.5 49.5L206.5 47.5M201.5 45.5L199.5 43.5M199.5 35.5L200.5 34.5M202.5 47.5L200.5 49.5M200.5 55.5L202.5 57.5M186.5 55.5L188.5 57.5M171.5 55.5L173.5 57.5M156.5 55.5L158.5 57.5M144.5 57.5L146.5 55.5M129.5 57.5L131.5 55.5M812.5 672.5L813.5 671.5M817.5 672.5L818.5 673.5M818.5 679.5L817.5 680.5M813.5 681.5L812.5 680.5M838.5 666.5L837.5 667.5M837.5 667.5L836.5 668.5M836.5 679.5L837.5 680.5M837.5 680.5L838.5 681.5M840.5 681.5L841.5 680.5M841.5 680.5L842.5 679.5M842.5 668.5L841.5 667.5M841.5 667.5L840.5 666.5M848.5 667.5L849.5 666.5M851.5 666.5L852.5 667.5M857.5 667.5L858.5 666.5M860.5 666.5L861.5 667.5M883.5 667.5L884.5 668.5M884.5 679.5L883.5 680.5M910.5 669.5L911.5 668.5M921.5 666.5L920.5 667.5M920.5 680.5L921.5 681.5M1082.5 672.5L1083.5 671.5M1085.5 671.5L1086.5 672.5M1086.5 672.5L1087.5 673.5M1087.5 679.5L1086.5 680.5M1086.5 680.5L1085.5 681.5M1083.5 681.5L1082.5 680.5M1305.5 682.5L1306.5 681.5M1321.5 666.5L1320.5 667.5M1323.5 667.5L1322.5 666.5M1360.5 667.5L1359.5 666.5M1358.5 666.5L1357.5 667.5M1361.5 674.5L1360.5 673.5M1358.5 672.5L1357.5 673.5M1357.5 673.5L1356.5 674.5M1364.5 668.5L1365.5 667.5M1365.5 667.5L1366.5 666.5M1367.5 666.5L1368.5 667.5M1368.5 667.5L1369.5 668.5M1369.5 672.5L1368.5 673.5M1368.5 673.5L1367.5 674.5M1367.5 680.5L1366.5 681.5M1373.5 680.5L1372.5 681.5M1376.5 673.5L1377.5 672.5M1377.5 672.5L1378.5 671.5M1380.5 671.5L1381.5 672.5M1377.5 681.5L1376.5 680.5M839.5 707.5L838.5 708.5M837.5 708.5L836.5 707.5M845.5 699.5L846.5 698.5M848.5 698.5L849.5 699.5M849.5 699.5L850.5 700.5M850.5 706.5L849.5 707.5M849.5 707.5L848.5 708.5M846.5 708.5L845.5 707.5M866.5 693.5L865.5 694.5M865.5 707.5L866.5 708.5M875.5 693.5L874.5 694.5M874.5 694.5L873.5 695.5M873.5 697.5L874.5 698.5M874.5 698.5L875.5 699.5M877.5 699.5L878.5 700.5M879.5 702.5L880.5 703.5M875.5 708.5L874.5 707.5M878.5 699.5L879.5 698.5M887.5 708.5L888.5 707.5M888.5 694.5L887.5 693.5M895.5 693.5L894.5 694.5M894.5 707.5L895.5 708.5M905.5 693.5L904.5 694.5M904.5 707.5L905.5 708.5M916.5 708.5L917.5 707.5M917.5 694.5L916.5 693.5M923.5 696.5L924.5 695.5M924.5 695.5L926.5 693.5M1083.5 696.5L1084.5 695.5M1084.5 695.5L1086.5 693.5M1140.5 693.5L1139.5 694.5M1139.5 694.5L1138.5 695.5M1138.5 706.5L1139.5 707.5M1139.5 707.5L1140.5 708.5M1142.5 708.5L1143.5 707.5M1143.5 707.5L1144.5 706.5M1144.5 695.5L1143.5 694.5M1143.5 694.5L1142.5 693.5M1150.5 694.5L1151.5 693.5M1153.5 693.5L1154.5 694.5M1164.5 699.5L1165.5 700.5M1165.5 706.5L1164.5 707.5M1174.5 699.5L1175.5 700.5M1175.5 706.5L1174.5 707.5M818.5 733.5L817.5 734.5M813.5 735.5L812.5 734.5M1081.5 722.5L1082.5 721.5M1086.5 721.5L1087.5 722.5M1083.5 735.5L1082.5 734.5M1082.5 734.5L1081.5 733.5M1306.5 721.5L1305.5 720.5M1319.5 722.5L1320.5 721.5M1323.5 721.5L1324.5 722.5M1357.5 735.5L1358.5 736.5M1361.5 728.5L1360.5 727.5M1358.5 726.5L1357.5 727.5M1357.5 727.5L1356.5 728.5M1364.5 722.5L1365.5 721.5M1368.5 721.5L1369.5 722.5M1369.5 726.5L1368.5 727.5M1368.5 727.5L1367.5 728.5M1367.5 734.5L1366.5 735.5M1366.5 735.5L1367.5 736.5M1373.5 734.5L1372.5 735.5M1372.5 735.5L1373.5 736.5M1376.5 727.5L1377.5 726.5M1381.5 735.5L1380.5 736.5M1378.5 736.5L1377.5 735.5M1377.5 735.5L1376.5 734.5M811.5 749.5L812.5 748.5M812.5 747.5L813.5 746.5M816.5 746.5L817.5 747.5M817.5 747.5L818.5 748.5M818.5 752.5L816.5 754.5M891.5 747.5L890.5 746.5M1087.5 754.5L1086.5 753.5M1082.5 753.5L1081.5 754.5M1305.5 763.5L1306.5 762.5M1306.5 747.5L1305.5 746.5M1311.5 750.5L1312.5 749.5M1321.5 747.5L1320.5 748.5M1320.5 761.5L1321.5 762.5M1322.5 762.5L1323.5 761.5M1323.5 748.5L1322.5 747.5M1348.5 750.5L1349.5 749.5M1361.5 749.5L1360.5 748.5M1360.5 748.5L1359.5 747.5M1358.5 747.5L1357.5 748.5M1356.5 760.5L1357.5 761.5M1357.5 761.5L1358.5 762.5M1360.5 761.5L1361.5 760.5M1365.5 748.5L1366.5 747.5M1367.5 747.5L1368.5 748.5M1367.5 760.5L1366.5 761.5M1366.5 761.5L1367.5 762.5M1373.5 760.5L1372.5 761.5M1372.5 761.5L1373.5 762.5M1377.5 753.5L1378.5 752.5M1380.5 752.5L1381.5 753.5M1381.5 753.5L1382.5 754.5M1382.5 760.5L1381.5 761.5M1381.5 761.5L1380.5 762.5M1378.5 762.5L1377.5 761.5M1377.5 761.5L1376.5 760.5M813.5 776.5L814.5 775.5M814.5 775.5L816.5 773.5M963.5 773.5L964.5 774.5M964.5 774.5L965.5 775.5M964.5 787.5L963.5 788.5M962.5 788.5L961.5 787.5M971.5 773.5L970.5 774.5M970.5 787.5L971.5 788.5M972.5 788.5L973.5 787.5M973.5 774.5L972.5 773.5M977.5 775.5L978.5 774.5M1081.5 786.5L1082.5 787.5M1086.5 787.5L1087.5 786.5M1087.5 781.5L1086.5 780.5M1082.5 780.5L1081.5 781.5M1321.5 775.5L1322.5 774.5M1324.5 774.5L1325.5 775.5M1325.5 779.5L1324.5 780.5M1324.5 780.5L1323.5 781.5M1327.5 789.5L1328.5 788.5M1328.5 788.5L1327.5 787.5M1330.5 780.5L1331.5 779.5M1333.5 788.5L1332.5 789.5M1332.5 789.5L1331.5 788.5M1331.5 788.5L1330.5 787.5M1358.5 788.5L1359.5 789.5M1359.5 789.5L1360.5 788.5M1361.5 781.5L1360.5 780.5M1360.5 780.5L1359.5 779.5M1359.5 779.5L1358.5 780.5M1365.5 789.5L1366.5 788.5M1366.5 788.5L1365.5 787.5M1376.5 788.5L1375.5 789.5M1374.5 789.5L1373.5 788.5M1373.5 787.5L1372.5 786.5M953.5 975.5L952.5 976.5M968.5 974.5L969.5 975.5M969.5 975.5L970.5 976.5M967.5 982.5L966.5 981.5M982.5 976.5L981.5 977.5M1164.5 950.5L1163.5 951.5M1164.5 957.5L1163.5 958.5M1163.5 958.5L1164.5 959.5M1175.5 959.5L1176.5 958.5M1176.5 958.5L1175.5 957.5M1179.5 951.5L1180.5 950.5M1182.5 950.5L1183.5 951.5M1183.5 951.5L1184.5 952.5M1184.5 957.5L1183.5 958.5M1183.5 958.5L1182.5 959.5M1180.5 959.5L1179.5 958.5M1179.5 957.5L1178.5 956.5M1250.5 962.5L1249.5 963.5M1249.5 963.5L1248.5 964.5M1247.5 964.5L1246.5 963.5M1246.5 963.5L1245.5 962.5M1260.5 954.5L1261.5 955.5M1255.5 963.5L1254.5 962.5M1277.5 963.5L1278.5 964.5M1287.5 953.5L1288.5 954.5M1293.5 962.5L1292.5 963.5M1292.5 963.5L1291.5 964.5M1288.5 964.5L1287.5 963.5M1287.5 963.5L1286.5 962.5M1291.5 954.5L1292.5 953.5M1301.5 964.5L1302.5 963.5M1309.5 963.5L1310.5 964.5M1322.5 964.5L1323.5 963.5M1323.5 963.5L1325.5 961.5M1330.5 963.5L1331.5 964.5M309.5 231.5L308.5 232.5M308.5 240.5L309.5 241.5M312.5 242.5L313.5 241.5M313.5 241.5L314.5 240.5M314.5 232.5L313.5 231.5M313.5 231.5L312.5 230.5M327.5 232.5L328.5 231.5M331.5 231.5L332.5 232.5M332.5 235.5L331.5 236.5M330.5 727.5L331.5 726.5M347.5 727.5L348.5 726.5M352.5 726.5L353.5 727.5M353.5 728.5L352.5 729.5M350.5 735.5L349.5 736.5M349.5 736.5L350.5 737.5M356.5 737.5L357.5 736.5M357.5 736.5L356.5 735.5M360.5 730.5L361.5 729.5M365.5 729.5L366.5 730.5M366.5 735.5L365.5 736.5M362.5 737.5L361.5 736.5M361.5 736.5L360.5 735.5"/>
<path class="ln" stroke="#0ff" d="M492.5 668.5L492.5 684.5M484.5 599.5L484.5 598.5M485.5 596.5L486.5 596.5M487.5 595.5L490.5 595.5M491.5 596.5L492.5 596.5M492.5 596.5L492.5 598.5M492.5 598.5L492.5 600.5M492.5 600.5L492.5 601.5M484.5 612.5L493.5 612.5M472.5 532.5L479.5 532.5M475.5 538.5L477.5 538.5M480.5 542.5L480.5 544.5M476.5 549.5L474.5 549.5M471.5 547.5L471.5 546.5M740.5 598.5L751.5 598.5M747.5 587.5L747.5 604.5M890.5 587.5L883.5 587.5M883.5 587.5L883.5 594.5M883.5 594.5L883.5 593.5M885.5 592.5L887.5 592.5M891.5 597.5L891.5 599.5M887.5 604.5L885.5 604.5M883.5 603.5L883.5 602.5"/>
<path class="ln" stroke="#0ff" stroke-width="0.9" d="M484.5 598.5L485.5 596.5M479.5 540.5L480.5 542.5M480.5 544.5L479.5 546.5M479.5 546.5L478.5 548.5M478.5 548.5L476.5 549.5M474.5 549.5L472.5 548.5M883.5 593.5L885.5 592.5M887.5 592.5L889.5 593.5M889.5 593.5L890.5 595.5M890.5 595.5L891.5 597.5M891.5 599.5L890.5 601.5M890.5 601.5L889.5 603.5M889.5 603.5L887.5 604.5M885.5 604.5L883.5 603.5M883.5 602.5L882.5 600.5"/>
<path class="ln" stroke="#0ff" stroke-width="0.85" d="M489.5 670.5L492.5 668.5M492.5 601.5L490.5 604.5M479.5 532.5L475.5 538.5M747.5 587.5L740.5 598.5"/>
<path class="ln" stroke="#0ff" stroke-width="0.8" d="M490.5 604.5L484.5 612.5"/>
<path class="ln" stroke="#0ff" stroke-width="0.7" d="M488.5 671.5L489.5 670.5M486.5 596.5L487.5 595.5M490.5 595.5L491.5 596.5M477.5 538.5L478.5 539.5M478.5 539.5L479.5 540.5M472.5 548.5L471.5 547.5"/>
<g shape-rendering="crispEdges">
<text class="cj" font-size="14.57" transform="translate(960.5 681.7) scale(.659 1)">电磁换向阀</text>
<text class="cj" font-size="15.11" transform="translate(1146.4 683.2) scale(.653 1)">外购件</text>
<text class="cj" font-size="14.57" transform="translate(960.5 708.7) scale(.659 1)">集流块</text>
<text class="cj" font-size="14.57" transform="translate(960.5 735.9) scale(.659 1)">快换接头</text>
<text class="cj" font-size="15.11" transform="translate(1146.4 737.4) scale(.653 1)">外购件</text>
<text class="cj" font-size="14.57" transform="translate(960.5 762.1) scale(.659 1)">单向阀</text>
<text class="cj" font-size="15.11" transform="translate(1146.4 763.6) scale(.653 1)">外购件</text>
<text class="cj" font-size="15.11" transform="translate(985 788.9) scale(.631 1)">弯接头</text>
<text class="cj" font-size="15.11" transform="translate(1146.4 790.4) scale(.653 1)">外购件</text>
<text class="cj" font-size="17.39" transform="translate(803 821.6) scale(.604 1)">序号</text>
<text class="cj" font-size="17.39" transform="translate(852.4 821.6) scale(.575 1)">代</text>
<text class="cj" font-size="17.39" transform="translate(919 821.6) scale(.598 1)">号</text>
<text class="cj" font-size="17.39" transform="translate(969 821.6) scale(.575 1)">名</text>
<text class="cj" font-size="17.39" transform="translate(1036 821.6) scale(.575 1)">称</text>
<text class="cj" font-size="17.39" transform="translate(1073 821.6) scale(.604 1)">数量</text>
<text class="cj" font-size="17.39" transform="translate(1111 821.6) scale(.575 1)">材</text>
<text class="cj" font-size="17.39" transform="translate(1188 821.6) scale(.575 1)">料</text>
<text class="cj" font-size="14.13" transform="translate(1222 809.9) scale(.637 1)">单</text>
<text class="cj" font-size="14.13" transform="translate(1241.4 809.9) scale(.609 1)">件</text>
<text class="cj" font-size="14.13" transform="translate(1262 809.9) scale(.637 1)">总</text>
<text class="cj" font-size="14.13" transform="translate(1280.6 809.9) scale(.566 1)">计</text>
<text class="cb" font-size="13.48" transform="translate(1230 829.9) scale(.623 1)">重</text>
<text class="cb" font-size="13.48" transform="translate(1274.6 829.9) scale(.623 1)">量</text>
<text class="cj" font-size="17.83" transform="translate(1305 821) scale(.561 1)">备</text>
<text class="cj" font-size="17.83" transform="translate(1371 821) scale(.594 1)">注</text>
<text class="cb" font-size="13.04" transform="translate(801.6 914.4) scale(.567 1)">标记</text>
<text class="cb" font-size="13.04" transform="translate(826 914.4) scale(.629 1)">处数</text>
<text class="cb" font-size="13.04" transform="translate(861 914.4) scale(.589 1)">更改文件号</text>
<text class="cb" font-size="13.04" transform="translate(927.6 914.4) scale(.521 1)">签</text>
<text class="cb" font-size="13.04" transform="translate(942.4 914.4) scale(.552 1)">字</text>
<text class="cb" font-size="13.04" transform="translate(974.4 914.4) scale(.537 1)">日期</text>
<text class="cb" font-size="11.52" transform="translate(810.4 931.1) scale(.573 1)">设</text>
<text class="cb" font-size="11.52" transform="translate(825.6 931.1) scale(.608 1)">计</text>
<text class="cb" font-size="11.52" transform="translate(910 931.1) scale(.666 1)">标准化</text>
<text class="cb" font-size="11.96" transform="translate(810 964) scale(.585 1)">审</text>
<text class="cb" font-size="11.96" transform="translate(825 964) scale(.669 1)">核</text>
<text class="cb" font-size="11.52" transform="translate(810 981.1) scale(.608 1)">工</text>
<text class="cb" font-size="11.52" transform="translate(825 981.1) scale(.694 1)">艺</text>
<text class="cb" font-size="11.52" transform="translate(912.4 981.1) scale(.451 1)">日</text>
<text class="cb" font-size="11.52" transform="translate(927.6 981.1) scale(.59 1)">期</text>
<text class="cb" font-size="11.3" transform="translate(1020.6 932.1) scale(.619 1)">图</text>
<text class="cb" font-size="11.3" transform="translate(1035 932.1) scale(.761 1)">样</text>
<text class="cb" font-size="11.3" transform="translate(1051 932.1) scale(.708 1)">标</text>
<text class="cb" font-size="11.3" transform="translate(1067 932.1) scale(.619 1)">记</text>
<text class="cb" font-size="11.3" transform="translate(1110 932.1) scale(.673 1)">重</text>
<text class="cb" font-size="11.3" transform="translate(1126 932.1) scale(.673 1)">量</text>
<text class="cb" font-size="11.3" transform="translate(1160 932.1) scale(.708 1)">比</text>
<text class="cb" font-size="11.3" transform="translate(1176 932.1) scale(.708 1)">例</text>
<text class="cb" font-size="11.52" transform="translate(1010 979.7) scale(.694 1)">共</text>
<text class="cb" font-size="11.52" transform="translate(1072.4 979.7) scale(.573 1)">页</text>
<text class="cb" font-size="11.52" transform="translate(1111 979.7) scale(.573 1)">第</text>
<text class="cb" font-size="11.52" transform="translate(1173 979.7) scale(.608 1)">页</text>
<text class="cj" font-size="25" transform="translate(1080.5 887) scale(.62 1)">组件</text>
<text class="cj" font-size="17.93" transform="translate(1258.6 916.6) scale(.601 1)">水泥仓破拱气路</text>
<text class="cb" font-size="12.5" transform="translate(334.4 241.5) scale(.72 1)">气管</text>
<text class="cb" font-size="11.3" transform="translate(338 714.5) scale(.796 1)">螺座</text>
<text class="cb" font-size="11.74" transform="translate(249.8 768.9) scale(.767 1)">水泥仓壁板</text>
<text class="cb" font-size="10.87" transform="translate(131 401.7) scale(.684 1)">水泥仓锥体壁板</text>
<text class="cj" font-size="17.83" transform="translate(575.6 936) scale(.62 1)">明细表数量为单个水泥仓的用量</text>
</g>
<g>
<g class="wm" transform="translate(24.6 333.5) rotate(-45)" fill="#d0d5d8" stroke="#d0d5d8" stroke-width="0.45"><text x="0.2" y="0" font-size="30.8">66</text><text x="35.3" y="2.2" font-size="30.3">机械网</text><text x="136.5" y="0" font-size="30.2" textLength="299.5" lengthAdjust="spacingAndGlyphs">www.66machine.com</text></g>
<g class="wm" transform="translate(586.6 333.5) rotate(-45)" fill="#d0d5d8" stroke="#d0d5d8" stroke-width="0.45"><text x="0.2" y="0" font-size="30.8">66</text><text x="35.3" y="2.2" font-size="30.3">机械网</text><text x="136.5" y="0" font-size="30.2" textLength="299.5" lengthAdjust="spacingAndGlyphs">www.66machine.com</text></g>
<g class="wm" transform="translate(1148.6 333.5) rotate(-45)" fill="#d0d5d8" stroke="#d0d5d8" stroke-width="0.45"><text x="0.2" y="0" font-size="30.8">66</text><text x="35.3" y="2.2" font-size="30.3">机械网</text><text x="136.5" y="0" font-size="30.2" textLength="299.5" lengthAdjust="spacingAndGlyphs">www.66machine.com</text></g>
<g class="wm" transform="translate(24.6 894.5) rotate(-45)" fill="#d0d5d8" stroke="#d0d5d8" stroke-width="0.45"><text x="0.2" y="0" font-size="30.8">66</text><text x="35.3" y="2.2" font-size="30.3">机械网</text><text x="136.5" y="0" font-size="30.2" textLength="299.5" lengthAdjust="spacingAndGlyphs">www.66machine.com</text></g>
<g class="wm" transform="translate(586.6 894.5) rotate(-45)" fill="#d0d5d8" stroke="#d0d5d8" stroke-width="0.45"><text x="0.2" y="0" font-size="30.8">66</text><text x="35.3" y="2.2" font-size="30.3">机械网</text><text x="136.5" y="0" font-size="30.2" textLength="299.5" lengthAdjust="spacingAndGlyphs">www.66machine.com</text></g>
<g class="wm" transform="translate(1148.6 894.5) rotate(-45)" fill="#d0d5d8" stroke="#d0d5d8" stroke-width="0.45"><text x="0.2" y="0" font-size="30.8">66</text><text x="35.3" y="2.2" font-size="30.3">机械网</text><text x="136.5" y="0" font-size="30.2" textLength="299.5" lengthAdjust="spacingAndGlyphs">www.66machine.com</text></g>
</g>
</svg>
</body></html>
